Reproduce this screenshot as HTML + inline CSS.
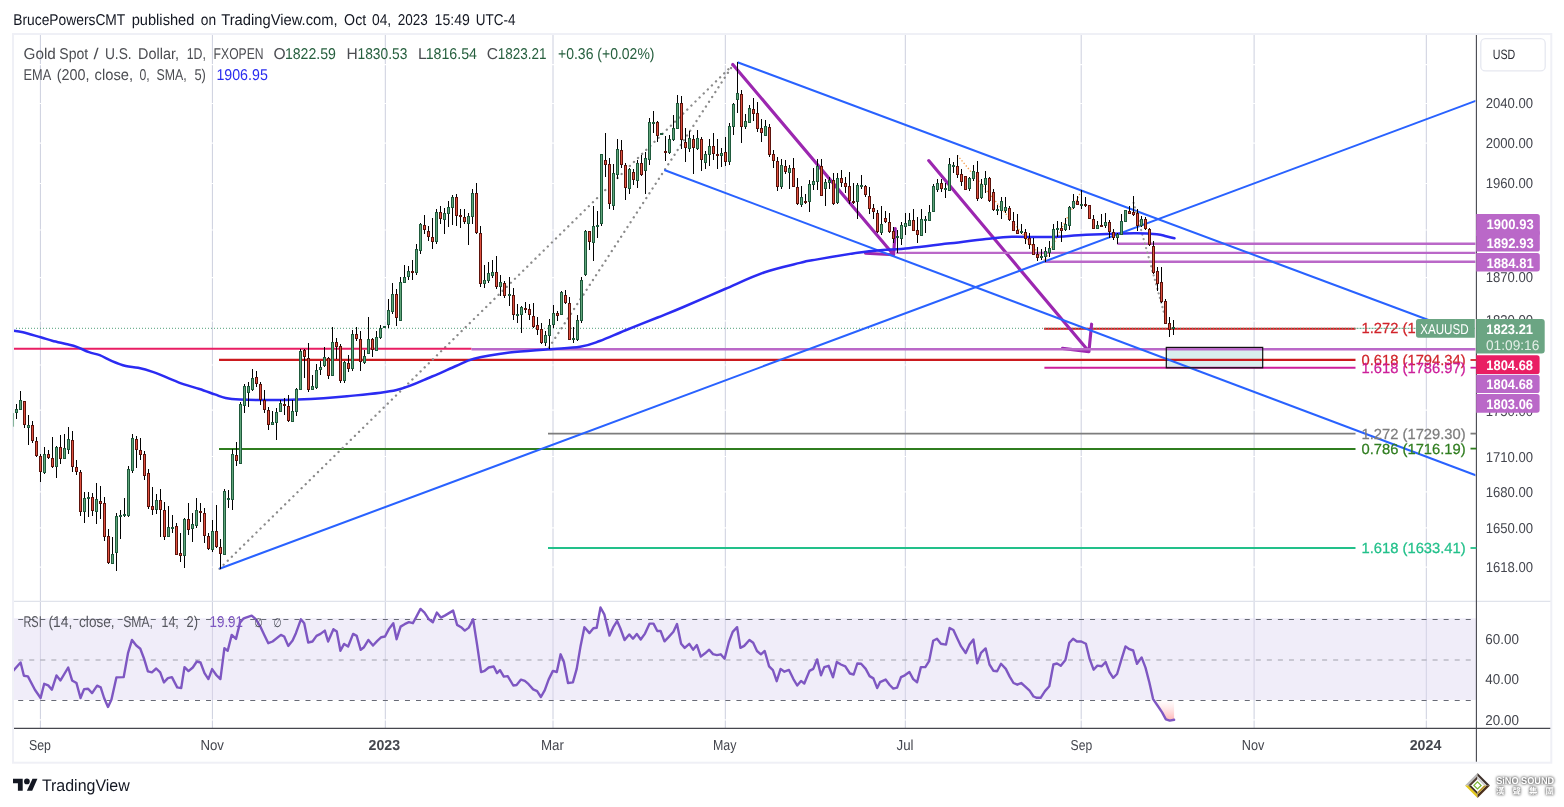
<!DOCTYPE html>
<html><head><meta charset="utf-8"><title>XAUUSD chart</title>
<style>
html,body{margin:0;padding:0;background:#fff;}
body{width:1564px;height:807px;overflow:hidden;font-family:"Liberation Sans", sans-serif;}
svg{display:block;font-family:"Liberation Sans", sans-serif;will-change:transform;opacity:0.999;}
svg text{white-space:pre;text-rendering:geometricPrecision;}
</style></head><body>
<svg width="1564" height="807" viewBox="0 0 1564 807">
<defs><clipPath id="cp"><rect x="13.0" y="34.0" width="1463.4" height="694.4"/></clipPath><clipPath id="cpm"><rect x="12.0" y="34.0" width="1463.4" height="567.3"/></clipPath><linearGradient id="rg" x1="0" y1="0" x2="0" y2="1"><stop offset="0" stop-color="#ffd2d2" stop-opacity="0"/><stop offset="1" stop-color="#ff9a9a" stop-opacity="0.75"/></linearGradient><clipPath id="cpr"><rect x="13.0" y="601.3" width="1463.4" height="127.1"/></clipPath></defs>
<line x1="40.4" y1="34.0" x2="40.4" y2="728.4" stroke="#cccfde" stroke-width="1" />
<line x1="212.4" y1="34.0" x2="212.4" y2="728.4" stroke="#cccfde" stroke-width="1" />
<line x1="385.3" y1="34.0" x2="385.3" y2="728.4" stroke="#cccfde" stroke-width="1" />
<line x1="553.0" y1="34.0" x2="553.0" y2="728.4" stroke="#cccfde" stroke-width="1" />
<line x1="725.3" y1="34.0" x2="725.3" y2="728.4" stroke="#cccfde" stroke-width="1" />
<line x1="905.3" y1="34.0" x2="905.3" y2="728.4" stroke="#cccfde" stroke-width="1" />
<line x1="1081.2" y1="34.0" x2="1081.2" y2="728.4" stroke="#cccfde" stroke-width="1" />
<line x1="1254.1" y1="34.0" x2="1254.1" y2="728.4" stroke="#cccfde" stroke-width="1" />
<line x1="1426.3" y1="34.0" x2="1426.3" y2="728.4" stroke="#cccfde" stroke-width="1" />
<line x1="13.0" y1="64.7" x2="1476.4" y2="64.7" stroke="#ffffff" stroke-width="1.2" />
<line x1="13.0" y1="103.5" x2="1476.4" y2="103.5" stroke="#ffffff" stroke-width="1.2" />
<line x1="13.0" y1="143.1" x2="1476.4" y2="143.1" stroke="#ffffff" stroke-width="1.2" />
<line x1="13.0" y1="183.5" x2="1476.4" y2="183.5" stroke="#ffffff" stroke-width="1.2" />
<line x1="13.0" y1="230.0" x2="1476.4" y2="230.0" stroke="#ffffff" stroke-width="1.2" />
<line x1="13.0" y1="277.6" x2="1476.4" y2="277.6" stroke="#ffffff" stroke-width="1.2" />
<line x1="13.0" y1="320.8" x2="1476.4" y2="320.8" stroke="#ffffff" stroke-width="1.2" />
<line x1="13.0" y1="365.0" x2="1476.4" y2="365.0" stroke="#ffffff" stroke-width="1.2" />
<line x1="13.0" y1="410.2" x2="1476.4" y2="410.2" stroke="#ffffff" stroke-width="1.2" />
<line x1="13.0" y1="456.5" x2="1476.4" y2="456.5" stroke="#ffffff" stroke-width="1.2" />
<line x1="13.0" y1="491.9" x2="1476.4" y2="491.9" stroke="#ffffff" stroke-width="1.2" />
<line x1="13.0" y1="527.9" x2="1476.4" y2="527.9" stroke="#ffffff" stroke-width="1.2" />
<line x1="13.0" y1="567.1" x2="1476.4" y2="567.1" stroke="#ffffff" stroke-width="1.2" />
<line x1="13.0" y1="639.4" x2="1476.4" y2="639.4" stroke="#ffffff" stroke-width="1.2" />
<line x1="13.0" y1="679.6" x2="1476.4" y2="679.6" stroke="#ffffff" stroke-width="1.2" />
<line x1="13.0" y1="719.8" x2="1476.4" y2="719.8" stroke="#ffffff" stroke-width="1.2" />
<rect x="13.0" y="618.3" width="1463.4" height="81.6" fill="#f0edf9"/>
<line x1="40.4" y1="618.3" x2="40.4" y2="699.9" stroke="#d3d1e4" stroke-width="1" />
<line x1="212.4" y1="618.3" x2="212.4" y2="699.9" stroke="#d3d1e4" stroke-width="1" />
<line x1="385.3" y1="618.3" x2="385.3" y2="699.9" stroke="#d3d1e4" stroke-width="1" />
<line x1="553.0" y1="618.3" x2="553.0" y2="699.9" stroke="#d3d1e4" stroke-width="1" />
<line x1="725.3" y1="618.3" x2="725.3" y2="699.9" stroke="#d3d1e4" stroke-width="1" />
<line x1="905.3" y1="618.3" x2="905.3" y2="699.9" stroke="#d3d1e4" stroke-width="1" />
<line x1="1081.2" y1="618.3" x2="1081.2" y2="699.9" stroke="#d3d1e4" stroke-width="1" />
<line x1="1254.1" y1="618.3" x2="1254.1" y2="699.9" stroke="#d3d1e4" stroke-width="1" />
<line x1="1426.3" y1="618.3" x2="1426.3" y2="699.9" stroke="#d3d1e4" stroke-width="1" />
<line x1="13.0" y1="619.5" x2="1476.4" y2="619.5" stroke="#676a75" stroke-width="1.1" stroke-dasharray="5 6.05" stroke-dashoffset="-5.2"/>
<line x1="13.0" y1="660.0" x2="1476.4" y2="660.0" stroke="#a0a2ab" stroke-width="1.1" stroke-dasharray="5 6.05" stroke-dashoffset="-5.2"/>
<line x1="13.0" y1="700.5" x2="1476.4" y2="700.5" stroke="#676a75" stroke-width="1.1" stroke-dasharray="5 6.05" stroke-dashoffset="-5.2"/>
<g clip-path="url(#cpm)">
<rect x="1166.3" y="347.4" width="96.4" height="20.4" fill="#d9eeee"/>
<line x1="219.0" y1="359.8" x2="1355.5" y2="359.8" stroke="#cb1a1e" stroke-width="2.2" />
<line x1="219.0" y1="449.0" x2="1355.5" y2="449.0" stroke="#2f7d1f" stroke-width="2" />
<line x1="548.0" y1="433.6" x2="1355.5" y2="433.6" stroke="#7d7d7d" stroke-width="1.7" />
<line x1="548.0" y1="548.0" x2="1355.5" y2="548.0" stroke="#22c08a" stroke-width="1.9" />
<line x1="1044.1" y1="328.7" x2="1355.5" y2="328.7" stroke="#cb1a1e" stroke-width="2" />
<line x1="1044.4" y1="367.7" x2="1355.5" y2="367.7" stroke="#cc1f9a" stroke-width="1.9" />
<line x1="13.0" y1="328.3" x2="1476.4" y2="328.3" stroke="#4f9f78" stroke-width="1" stroke-dasharray="1 2"/>
<line x1="219.5" y1="568.8" x2="733.5" y2="64.2" stroke="#8a8a8a" stroke-width="2.3" stroke-dasharray="0.1 5.65" stroke-linecap="round"/>
<line x1="549.0" y1="347.5" x2="733.5" y2="64.2" stroke="#8a8a8a" stroke-width="2.3" stroke-dasharray="0.1 5.65" stroke-linecap="round"/>
<path d="M732.8,64.5L893.6,254.8M865.5,253.3L893.6,254.8L895.3,228.5" fill="none" stroke="#9c27b0" stroke-width="3.15" stroke-linecap="round" stroke-linejoin="round"/>
<path d="M928.7,160.6L1088.9,351.6M1062.5,348.4L1088.9,351.6L1091.6,324.2" fill="none" stroke="#9c27b0" stroke-width="3.15" stroke-linecap="round" stroke-linejoin="round"/>
<line x1="13.0" y1="348.8" x2="471.5" y2="348.8" stroke="#e91e63" stroke-width="2" />
<line x1="471.5" y1="349.3" x2="1476.4" y2="349.3" stroke="#ba68c8" stroke-width="2.6" />
<line x1="1117.3" y1="243.8" x2="1476.4" y2="243.8" stroke="#ba68c8" stroke-width="2.4" />
<line x1="896.4" y1="252.9" x2="1476.4" y2="252.9" stroke="#ba68c8" stroke-width="2.4" />
<line x1="1044.4" y1="261.8" x2="1476.4" y2="261.8" stroke="#ba68c8" stroke-width="2.4" />
<line x1="957.4" y1="155.3" x2="1045.4" y2="261.5" stroke="#f59a45" stroke-width="1.3" stroke-dasharray="1.3 2"/>
<line x1="1045.4" y1="259.3" x2="1081.4" y2="190.9" stroke="#f59a45" stroke-width="1.3" stroke-dasharray="1.3 2"/>
<line x1="219.5" y1="568.8" x2="1476.4" y2="100.6" stroke="#2962ff" stroke-width="2.05" />
<line x1="737.5" y1="62.3" x2="1466.0" y2="334.0" stroke="#2962ff" stroke-width="2.05" />
<line x1="664.3" y1="170.0" x2="1476.4" y2="475.6" stroke="#2962ff" stroke-width="2.05" />
<rect x="1166.3" y="347.4" width="96.4" height="20.4" fill="none" stroke="#111" stroke-width="1.2"/>
<line x1="1133.6" y1="202.8" x2="1167.3" y2="324.7" stroke="#999999" stroke-width="2.2" stroke-dasharray="0.1 4.6" stroke-linecap="round"/>
<path d="M12.0,330.4C13.8,330.7 18.2,331.0 23.0,332.2C27.8,333.4 35.8,335.9 40.7,337.3C45.6,338.7 48.0,339.6 52.2,340.7C56.4,341.8 61.9,343.0 66.0,344.0C70.1,345.0 72.9,345.4 76.7,346.8C80.5,348.2 85.2,350.8 89.0,352.2C92.8,353.6 95.9,353.7 99.7,355.2C103.5,356.7 107.7,359.3 112.0,361.1C116.3,362.9 121.5,364.9 125.8,366.0C130.2,367.1 133.5,366.8 138.1,367.8C142.7,368.8 148.3,370.4 153.4,372.1C158.5,373.9 163.7,376.2 168.8,378.3C173.9,380.4 179.0,382.6 184.1,384.4C189.2,386.2 194.4,387.3 199.5,389.0C204.6,390.7 210.5,392.9 214.8,394.4C219.2,395.9 221.4,397.1 225.6,398.0C229.8,398.9 233.9,399.3 240.0,399.6C246.1,399.9 252.4,400.0 262.0,400.0C271.6,400.0 283.3,400.1 297.5,399.5C311.7,398.9 330.5,397.8 347.0,396.2C363.5,394.6 382.4,393.3 396.6,390.0C410.8,386.7 422.1,380.5 432.0,376.5C441.9,372.5 449.0,368.9 456.0,366.0C463.0,363.1 465.1,361.0 474.0,358.8C482.9,356.6 497.2,354.2 509.5,352.6C521.8,351.0 536.2,350.3 548.0,349.3C559.8,348.3 571.4,348.2 580.0,346.8C588.6,345.4 592.2,343.7 599.7,341.0C607.2,338.3 615.4,334.4 625.0,330.5C634.6,326.6 647.9,321.4 657.6,317.5C667.3,313.6 672.2,311.8 683.4,307.0C694.6,302.2 711.6,294.8 725.0,289.0C738.4,283.2 751.5,276.9 764.0,272.5C776.5,268.1 792.0,264.9 800.0,262.9C808.0,260.9 801.4,262.1 812.0,260.3C822.6,258.5 847.6,254.0 863.7,252.0C879.8,250.0 894.8,249.6 908.8,248.2C922.8,246.8 934.6,245.1 947.5,243.6C960.4,242.1 975.3,240.1 986.0,239.0C996.7,237.9 1001.1,237.1 1011.9,236.8C1022.6,236.5 1038.2,237.3 1050.5,237.0C1062.8,236.7 1072.1,235.4 1086.0,234.8C1099.9,234.2 1122.2,233.4 1134.0,233.3C1145.8,233.2 1151.5,233.7 1156.8,234.2C1162.1,234.7 1163.0,235.5 1166.0,236.2C1169.0,236.9 1173.1,238.0 1174.5,238.3" fill="none" stroke="#2b2bf2" stroke-width="2.5" stroke-linecap="round"/>
<line x1="12.5" y1="413" x2="12.5" y2="427" stroke="#000" stroke-width="1"/>
<rect x="11.0" y="413" width="3" height="14" fill="#1f5a3c"/>
<rect x="12.0" y="414" width="1" height="12" fill="#5fa57a"/>
<line x1="16.5" y1="404" x2="16.5" y2="419" stroke="#000" stroke-width="1"/>
<rect x="15.0" y="409" width="3" height="4" fill="#1f5a3c"/>
<rect x="16.0" y="410" width="1" height="2" fill="#5fa57a"/>
<line x1="20.5" y1="391" x2="20.5" y2="409" stroke="#000" stroke-width="1"/>
<rect x="19.0" y="400" width="3" height="10" fill="#1f5a3c"/>
<rect x="20.0" y="401" width="1" height="8" fill="#5fa57a"/>
<line x1="24.5" y1="401" x2="24.5" y2="428" stroke="#000" stroke-width="1"/>
<rect x="23.0" y="401" width="3" height="24" fill="#5c130c"/>
<rect x="24.0" y="402" width="1" height="22" fill="#e0503f"/>
<line x1="28.5" y1="415" x2="28.5" y2="445" stroke="#000" stroke-width="1"/>
<rect x="27.0" y="425" width="3" height="3" fill="#1f5a3c"/>
<rect x="28.0" y="426" width="1" height="1" fill="#5fa57a"/>
<line x1="32.5" y1="421" x2="32.5" y2="443" stroke="#000" stroke-width="1"/>
<rect x="31.0" y="425" width="3" height="16" fill="#5c130c"/>
<rect x="32.0" y="426" width="1" height="14" fill="#e0503f"/>
<line x1="36.5" y1="437" x2="36.5" y2="457" stroke="#000" stroke-width="1"/>
<rect x="35.0" y="441" width="3" height="15" fill="#5c130c"/>
<rect x="36.0" y="442" width="1" height="13" fill="#e0503f"/>
<line x1="40.5" y1="454" x2="40.5" y2="482" stroke="#000" stroke-width="1"/>
<rect x="39.0" y="456" width="3" height="16" fill="#5c130c"/>
<rect x="40.0" y="457" width="1" height="14" fill="#e0503f"/>
<line x1="44.5" y1="447" x2="44.5" y2="474" stroke="#000" stroke-width="1"/>
<rect x="43.0" y="454" width="3" height="19" fill="#1f5a3c"/>
<rect x="44.0" y="455" width="1" height="17" fill="#5fa57a"/>
<line x1="48.5" y1="450" x2="48.5" y2="459" stroke="#000" stroke-width="1"/>
<rect x="47.0" y="454" width="3" height="4" fill="#5c130c"/>
<rect x="48.0" y="455" width="1" height="2" fill="#e0503f"/>
<line x1="52.5" y1="437" x2="52.5" y2="468" stroke="#000" stroke-width="1"/>
<rect x="51.0" y="458" width="3" height="9" fill="#5c130c"/>
<rect x="52.0" y="459" width="1" height="7" fill="#e0503f"/>
<line x1="56.5" y1="446" x2="56.5" y2="478" stroke="#000" stroke-width="1"/>
<rect x="55.0" y="447" width="3" height="20" fill="#1f5a3c"/>
<rect x="56.0" y="448" width="1" height="18" fill="#5fa57a"/>
<line x1="60.5" y1="435" x2="60.5" y2="464" stroke="#000" stroke-width="1"/>
<rect x="59.0" y="447" width="3" height="12" fill="#5c130c"/>
<rect x="60.0" y="448" width="1" height="10" fill="#e0503f"/>
<line x1="64.5" y1="434" x2="64.5" y2="459" stroke="#000" stroke-width="1"/>
<rect x="63.0" y="448" width="3" height="11" fill="#1f5a3c"/>
<rect x="64.0" y="449" width="1" height="9" fill="#5fa57a"/>
<line x1="68.5" y1="427" x2="68.5" y2="454" stroke="#000" stroke-width="1"/>
<rect x="67.0" y="439" width="3" height="11" fill="#1f5a3c"/>
<rect x="68.0" y="440" width="1" height="9" fill="#5fa57a"/>
<line x1="72.5" y1="431" x2="72.5" y2="472" stroke="#000" stroke-width="1"/>
<rect x="71.0" y="440" width="3" height="27" fill="#5c130c"/>
<rect x="72.0" y="441" width="1" height="25" fill="#e0503f"/>
<line x1="76.5" y1="460" x2="76.5" y2="475" stroke="#000" stroke-width="1"/>
<rect x="75.0" y="467" width="3" height="5" fill="#5c130c"/>
<rect x="76.0" y="468" width="1" height="3" fill="#e0503f"/>
<line x1="80.5" y1="470" x2="80.5" y2="516" stroke="#000" stroke-width="1"/>
<rect x="79.0" y="472" width="3" height="40" fill="#5c130c"/>
<rect x="80.0" y="473" width="1" height="38" fill="#e0503f"/>
<line x1="84.5" y1="492" x2="84.5" y2="523" stroke="#000" stroke-width="1"/>
<rect x="83.0" y="498" width="3" height="14" fill="#1f5a3c"/>
<rect x="84.0" y="499" width="1" height="12" fill="#5fa57a"/>
<line x1="88.5" y1="492" x2="88.5" y2="517" stroke="#000" stroke-width="1"/>
<rect x="87.0" y="497" width="3" height="2" fill="#1f5a3c"/>
<line x1="92.5" y1="493" x2="92.5" y2="516" stroke="#000" stroke-width="1"/>
<rect x="91.0" y="497" width="3" height="14" fill="#5c130c"/>
<rect x="92.0" y="498" width="1" height="12" fill="#e0503f"/>
<line x1="96.5" y1="483" x2="96.5" y2="524" stroke="#000" stroke-width="1"/>
<rect x="95.0" y="499" width="3" height="13" fill="#1f5a3c"/>
<rect x="96.0" y="500" width="1" height="11" fill="#5fa57a"/>
<line x1="100.5" y1="486" x2="100.5" y2="519" stroke="#000" stroke-width="1"/>
<rect x="99.0" y="501" width="3" height="3" fill="#5c130c"/>
<rect x="100.0" y="502" width="1" height="1" fill="#e0503f"/>
<line x1="104.5" y1="497" x2="104.5" y2="541" stroke="#000" stroke-width="1"/>
<rect x="103.0" y="503" width="3" height="34" fill="#5c130c"/>
<rect x="104.0" y="504" width="1" height="32" fill="#e0503f"/>
<line x1="108.5" y1="529" x2="108.5" y2="564" stroke="#000" stroke-width="1"/>
<rect x="107.0" y="536" width="3" height="27" fill="#5c130c"/>
<rect x="108.0" y="537" width="1" height="25" fill="#e0503f"/>
<line x1="112.5" y1="537" x2="112.5" y2="564" stroke="#000" stroke-width="1"/>
<rect x="111.0" y="554" width="3" height="10" fill="#1f5a3c"/>
<rect x="112.0" y="555" width="1" height="8" fill="#5fa57a"/>
<line x1="116.5" y1="513" x2="116.5" y2="571" stroke="#000" stroke-width="1"/>
<rect x="115.0" y="516" width="3" height="37" fill="#1f5a3c"/>
<rect x="116.0" y="517" width="1" height="35" fill="#5fa57a"/>
<line x1="120.5" y1="510" x2="120.5" y2="539" stroke="#000" stroke-width="1"/>
<rect x="119.0" y="515" width="3" height="2" fill="#1f5a3c"/>
<line x1="124.5" y1="498" x2="124.5" y2="517" stroke="#000" stroke-width="1"/>
<rect x="123.0" y="514" width="3" height="2" fill="#1f5a3c"/>
<line x1="128.5" y1="466" x2="128.5" y2="517" stroke="#000" stroke-width="1"/>
<rect x="127.0" y="469" width="3" height="47" fill="#1f5a3c"/>
<rect x="128.0" y="470" width="1" height="45" fill="#5fa57a"/>
<line x1="132.5" y1="434" x2="132.5" y2="473" stroke="#000" stroke-width="1"/>
<rect x="131.0" y="438" width="3" height="33" fill="#1f5a3c"/>
<rect x="132.0" y="439" width="1" height="31" fill="#5fa57a"/>
<line x1="136.5" y1="436" x2="136.5" y2="468" stroke="#000" stroke-width="1"/>
<rect x="135.0" y="439" width="3" height="11" fill="#5c130c"/>
<rect x="136.0" y="440" width="1" height="9" fill="#e0503f"/>
<line x1="140.5" y1="438" x2="140.5" y2="460" stroke="#000" stroke-width="1"/>
<rect x="139.0" y="450" width="3" height="5" fill="#5c130c"/>
<rect x="140.0" y="451" width="1" height="3" fill="#e0503f"/>
<line x1="144.5" y1="451" x2="144.5" y2="480" stroke="#000" stroke-width="1"/>
<rect x="143.0" y="454" width="3" height="22" fill="#5c130c"/>
<rect x="144.0" y="455" width="1" height="20" fill="#e0503f"/>
<line x1="148.5" y1="469" x2="148.5" y2="509" stroke="#000" stroke-width="1"/>
<rect x="147.0" y="473" width="3" height="34" fill="#5c130c"/>
<rect x="148.0" y="474" width="1" height="32" fill="#e0503f"/>
<line x1="152.5" y1="487" x2="152.5" y2="515" stroke="#000" stroke-width="1"/>
<rect x="151.0" y="506" width="3" height="4" fill="#5c130c"/>
<rect x="152.0" y="507" width="1" height="2" fill="#e0503f"/>
<line x1="156.5" y1="494" x2="156.5" y2="514" stroke="#000" stroke-width="1"/>
<rect x="155.0" y="500" width="3" height="10" fill="#1f5a3c"/>
<rect x="156.0" y="501" width="1" height="8" fill="#5fa57a"/>
<line x1="160.5" y1="489" x2="160.5" y2="537" stroke="#000" stroke-width="1"/>
<rect x="159.0" y="500" width="3" height="10" fill="#5c130c"/>
<rect x="160.0" y="501" width="1" height="8" fill="#e0503f"/>
<line x1="164.5" y1="502" x2="164.5" y2="540" stroke="#000" stroke-width="1"/>
<rect x="163.0" y="510" width="3" height="27" fill="#5c130c"/>
<rect x="164.0" y="511" width="1" height="25" fill="#e0503f"/>
<line x1="168.5" y1="506" x2="168.5" y2="537" stroke="#000" stroke-width="1"/>
<rect x="167.0" y="527" width="3" height="10" fill="#1f5a3c"/>
<rect x="168.0" y="528" width="1" height="8" fill="#5fa57a"/>
<line x1="172.5" y1="515" x2="172.5" y2="533" stroke="#000" stroke-width="1"/>
<rect x="171.0" y="527" width="3" height="2" fill="#1f5a3c"/>
<line x1="176.5" y1="523" x2="176.5" y2="555" stroke="#000" stroke-width="1"/>
<rect x="175.0" y="526" width="3" height="29" fill="#5c130c"/>
<rect x="176.0" y="527" width="1" height="27" fill="#e0503f"/>
<line x1="180.5" y1="533" x2="180.5" y2="562" stroke="#000" stroke-width="1"/>
<rect x="179.0" y="553" width="3" height="3" fill="#5c130c"/>
<rect x="180.0" y="554" width="1" height="1" fill="#e0503f"/>
<line x1="184.5" y1="518" x2="184.5" y2="568" stroke="#000" stroke-width="1"/>
<rect x="183.0" y="519" width="3" height="37" fill="#1f5a3c"/>
<rect x="184.0" y="520" width="1" height="35" fill="#5fa57a"/>
<line x1="188.5" y1="503" x2="188.5" y2="535" stroke="#000" stroke-width="1"/>
<rect x="187.0" y="519" width="3" height="11" fill="#5c130c"/>
<rect x="188.0" y="520" width="1" height="9" fill="#e0503f"/>
<line x1="192.5" y1="513" x2="192.5" y2="542" stroke="#000" stroke-width="1"/>
<rect x="191.0" y="524" width="3" height="5" fill="#1f5a3c"/>
<rect x="192.0" y="525" width="1" height="3" fill="#5fa57a"/>
<line x1="196.5" y1="498" x2="196.5" y2="528" stroke="#000" stroke-width="1"/>
<rect x="195.0" y="510" width="3" height="16" fill="#1f5a3c"/>
<rect x="196.0" y="511" width="1" height="14" fill="#5fa57a"/>
<line x1="200.5" y1="503" x2="200.5" y2="522" stroke="#000" stroke-width="1"/>
<rect x="199.0" y="511" width="3" height="2" fill="#5c130c"/>
<line x1="204.5" y1="508" x2="204.5" y2="543" stroke="#000" stroke-width="1"/>
<rect x="203.0" y="513" width="3" height="23" fill="#5c130c"/>
<rect x="204.0" y="514" width="1" height="21" fill="#e0503f"/>
<line x1="208.5" y1="533" x2="208.5" y2="550" stroke="#000" stroke-width="1"/>
<rect x="207.0" y="536" width="3" height="13" fill="#5c130c"/>
<rect x="208.0" y="537" width="1" height="11" fill="#e0503f"/>
<line x1="212.5" y1="520" x2="212.5" y2="552" stroke="#000" stroke-width="1"/>
<rect x="211.0" y="531" width="3" height="19" fill="#1f5a3c"/>
<rect x="212.0" y="532" width="1" height="17" fill="#5fa57a"/>
<line x1="216.5" y1="505" x2="216.5" y2="548" stroke="#000" stroke-width="1"/>
<rect x="215.0" y="531" width="3" height="16" fill="#5c130c"/>
<rect x="216.0" y="532" width="1" height="14" fill="#e0503f"/>
<line x1="220.5" y1="539" x2="220.5" y2="569" stroke="#000" stroke-width="1"/>
<rect x="219.0" y="547" width="3" height="7" fill="#5c130c"/>
<rect x="220.0" y="548" width="1" height="5" fill="#e0503f"/>
<line x1="224.5" y1="489" x2="224.5" y2="555" stroke="#000" stroke-width="1"/>
<rect x="223.0" y="491" width="3" height="64" fill="#1f5a3c"/>
<rect x="224.0" y="492" width="1" height="62" fill="#5fa57a"/>
<line x1="228.5" y1="490" x2="228.5" y2="508" stroke="#000" stroke-width="1"/>
<rect x="227.0" y="498" width="3" height="2" fill="#1f5a3c"/>
<line x1="232.5" y1="449" x2="232.5" y2="510" stroke="#000" stroke-width="1"/>
<rect x="231.0" y="454" width="3" height="46" fill="#1f5a3c"/>
<rect x="232.0" y="455" width="1" height="44" fill="#5fa57a"/>
<line x1="236.5" y1="442" x2="236.5" y2="466" stroke="#000" stroke-width="1"/>
<rect x="235.0" y="455" width="3" height="6" fill="#5c130c"/>
<rect x="236.0" y="456" width="1" height="4" fill="#e0503f"/>
<line x1="240.5" y1="402" x2="240.5" y2="464" stroke="#000" stroke-width="1"/>
<rect x="239.0" y="404" width="3" height="60" fill="#1f5a3c"/>
<rect x="240.0" y="405" width="1" height="58" fill="#5fa57a"/>
<line x1="244.5" y1="384" x2="244.5" y2="413" stroke="#000" stroke-width="1"/>
<rect x="243.0" y="386" width="3" height="20" fill="#1f5a3c"/>
<rect x="244.0" y="387" width="1" height="18" fill="#5fa57a"/>
<line x1="248.5" y1="382" x2="248.5" y2="407" stroke="#000" stroke-width="1"/>
<rect x="247.0" y="386" width="3" height="7" fill="#1f5a3c"/>
<rect x="248.0" y="387" width="1" height="5" fill="#5fa57a"/>
<line x1="252.5" y1="369" x2="252.5" y2="391" stroke="#000" stroke-width="1"/>
<rect x="251.0" y="378" width="3" height="12" fill="#1f5a3c"/>
<rect x="252.0" y="379" width="1" height="10" fill="#5fa57a"/>
<line x1="256.5" y1="371" x2="256.5" y2="387" stroke="#000" stroke-width="1"/>
<rect x="255.0" y="377" width="3" height="7" fill="#5c130c"/>
<rect x="256.0" y="378" width="1" height="5" fill="#e0503f"/>
<line x1="260.5" y1="382" x2="260.5" y2="405" stroke="#000" stroke-width="1"/>
<rect x="259.0" y="384" width="3" height="16" fill="#5c130c"/>
<rect x="260.0" y="385" width="1" height="14" fill="#e0503f"/>
<line x1="264.5" y1="390" x2="264.5" y2="413" stroke="#000" stroke-width="1"/>
<rect x="263.0" y="400" width="3" height="10" fill="#5c130c"/>
<rect x="264.0" y="401" width="1" height="8" fill="#e0503f"/>
<line x1="268.5" y1="407" x2="268.5" y2="430" stroke="#000" stroke-width="1"/>
<rect x="267.0" y="410" width="3" height="15" fill="#5c130c"/>
<rect x="268.0" y="411" width="1" height="13" fill="#e0503f"/>
<line x1="272.5" y1="411" x2="272.5" y2="425" stroke="#000" stroke-width="1"/>
<rect x="271.0" y="422" width="3" height="3" fill="#1f5a3c"/>
<rect x="272.0" y="423" width="1" height="1" fill="#5fa57a"/>
<line x1="276.5" y1="408" x2="276.5" y2="440" stroke="#000" stroke-width="1"/>
<rect x="275.0" y="412" width="3" height="11" fill="#1f5a3c"/>
<rect x="276.0" y="413" width="1" height="9" fill="#5fa57a"/>
<line x1="280.5" y1="400" x2="280.5" y2="412" stroke="#000" stroke-width="1"/>
<rect x="279.0" y="403" width="3" height="9" fill="#1f5a3c"/>
<rect x="280.0" y="404" width="1" height="7" fill="#5fa57a"/>
<line x1="284.5" y1="398" x2="284.5" y2="415" stroke="#000" stroke-width="1"/>
<rect x="283.0" y="404" width="3" height="2" fill="#5c130c"/>
<line x1="288.5" y1="395" x2="288.5" y2="422" stroke="#000" stroke-width="1"/>
<rect x="287.0" y="406" width="3" height="15" fill="#5c130c"/>
<rect x="288.0" y="407" width="1" height="13" fill="#e0503f"/>
<line x1="292.5" y1="400" x2="292.5" y2="422" stroke="#000" stroke-width="1"/>
<rect x="291.0" y="411" width="3" height="11" fill="#1f5a3c"/>
<rect x="292.0" y="412" width="1" height="9" fill="#5fa57a"/>
<line x1="296.5" y1="388" x2="296.5" y2="416" stroke="#000" stroke-width="1"/>
<rect x="295.0" y="389" width="3" height="23" fill="#1f5a3c"/>
<rect x="296.0" y="390" width="1" height="21" fill="#5fa57a"/>
<line x1="300.5" y1="349" x2="300.5" y2="390" stroke="#000" stroke-width="1"/>
<rect x="299.0" y="351" width="3" height="39" fill="#1f5a3c"/>
<rect x="300.0" y="352" width="1" height="37" fill="#5fa57a"/>
<line x1="304.5" y1="349" x2="304.5" y2="378" stroke="#000" stroke-width="1"/>
<rect x="303.0" y="350" width="3" height="7" fill="#5c130c"/>
<rect x="304.0" y="351" width="1" height="5" fill="#e0503f"/>
<line x1="308.5" y1="343" x2="308.5" y2="392" stroke="#000" stroke-width="1"/>
<rect x="307.0" y="358" width="3" height="32" fill="#5c130c"/>
<rect x="308.0" y="359" width="1" height="30" fill="#e0503f"/>
<line x1="312.5" y1="375" x2="312.5" y2="390" stroke="#000" stroke-width="1"/>
<rect x="311.0" y="386" width="3" height="4" fill="#1f5a3c"/>
<rect x="312.0" y="387" width="1" height="2" fill="#5fa57a"/>
<line x1="316.5" y1="364" x2="316.5" y2="389" stroke="#000" stroke-width="1"/>
<rect x="315.0" y="370" width="3" height="18" fill="#1f5a3c"/>
<rect x="316.0" y="371" width="1" height="16" fill="#5fa57a"/>
<line x1="320.5" y1="361" x2="320.5" y2="375" stroke="#000" stroke-width="1"/>
<rect x="319.0" y="367" width="3" height="3" fill="#1f5a3c"/>
<rect x="320.0" y="368" width="1" height="1" fill="#5fa57a"/>
<line x1="324.5" y1="347" x2="324.5" y2="367" stroke="#000" stroke-width="1"/>
<rect x="323.0" y="357" width="3" height="9" fill="#1f5a3c"/>
<rect x="324.0" y="358" width="1" height="7" fill="#5fa57a"/>
<line x1="328.5" y1="357" x2="328.5" y2="379" stroke="#000" stroke-width="1"/>
<rect x="327.0" y="358" width="3" height="18" fill="#5c130c"/>
<rect x="328.0" y="359" width="1" height="16" fill="#e0503f"/>
<line x1="332.5" y1="327" x2="332.5" y2="376" stroke="#000" stroke-width="1"/>
<rect x="331.0" y="342" width="3" height="34" fill="#1f5a3c"/>
<rect x="332.0" y="343" width="1" height="32" fill="#5fa57a"/>
<line x1="336.5" y1="338" x2="336.5" y2="359" stroke="#000" stroke-width="1"/>
<rect x="335.0" y="342" width="3" height="5" fill="#5c130c"/>
<rect x="336.0" y="343" width="1" height="3" fill="#e0503f"/>
<line x1="340.5" y1="344" x2="340.5" y2="383" stroke="#000" stroke-width="1"/>
<rect x="339.0" y="346" width="3" height="35" fill="#5c130c"/>
<rect x="340.0" y="347" width="1" height="33" fill="#e0503f"/>
<line x1="344.5" y1="361" x2="344.5" y2="383" stroke="#000" stroke-width="1"/>
<rect x="343.0" y="362" width="3" height="19" fill="#1f5a3c"/>
<rect x="344.0" y="363" width="1" height="17" fill="#5fa57a"/>
<line x1="348.5" y1="355" x2="348.5" y2="372" stroke="#000" stroke-width="1"/>
<rect x="347.0" y="363" width="3" height="6" fill="#5c130c"/>
<rect x="348.0" y="364" width="1" height="4" fill="#e0503f"/>
<line x1="352.5" y1="330" x2="352.5" y2="371" stroke="#000" stroke-width="1"/>
<rect x="351.0" y="334" width="3" height="35" fill="#1f5a3c"/>
<rect x="352.0" y="335" width="1" height="33" fill="#5fa57a"/>
<line x1="356.5" y1="327" x2="356.5" y2="341" stroke="#000" stroke-width="1"/>
<rect x="355.0" y="334" width="3" height="5" fill="#5c130c"/>
<rect x="356.0" y="335" width="1" height="3" fill="#e0503f"/>
<line x1="360.5" y1="331" x2="360.5" y2="371" stroke="#000" stroke-width="1"/>
<rect x="359.0" y="339" width="3" height="23" fill="#5c130c"/>
<rect x="360.0" y="340" width="1" height="21" fill="#e0503f"/>
<line x1="364.5" y1="350" x2="364.5" y2="364" stroke="#000" stroke-width="1"/>
<rect x="363.0" y="356" width="3" height="7" fill="#1f5a3c"/>
<rect x="364.0" y="357" width="1" height="5" fill="#5fa57a"/>
<line x1="368.5" y1="317" x2="368.5" y2="354" stroke="#000" stroke-width="1"/>
<rect x="367.0" y="339" width="3" height="15" fill="#1f5a3c"/>
<rect x="368.0" y="340" width="1" height="13" fill="#5fa57a"/>
<line x1="372.5" y1="338" x2="372.5" y2="357" stroke="#000" stroke-width="1"/>
<rect x="371.0" y="339" width="3" height="11" fill="#5c130c"/>
<rect x="372.0" y="340" width="1" height="9" fill="#e0503f"/>
<line x1="376.5" y1="331" x2="376.5" y2="351" stroke="#000" stroke-width="1"/>
<rect x="375.0" y="337" width="3" height="14" fill="#1f5a3c"/>
<rect x="376.0" y="338" width="1" height="12" fill="#5fa57a"/>
<line x1="380.5" y1="325" x2="380.5" y2="339" stroke="#000" stroke-width="1"/>
<rect x="379.0" y="328" width="3" height="10" fill="#1f5a3c"/>
<rect x="380.0" y="329" width="1" height="8" fill="#5fa57a"/>
<line x1="384.5" y1="327" x2="384.5" y2="328" stroke="#000" stroke-width="1"/>
<rect x="383.0" y="326" width="3" height="2" fill="#1f5a3c"/>
<line x1="388.5" y1="299" x2="388.5" y2="328" stroke="#000" stroke-width="1"/>
<rect x="387.0" y="310" width="3" height="15" fill="#1f5a3c"/>
<rect x="388.0" y="311" width="1" height="13" fill="#5fa57a"/>
<line x1="392.5" y1="283" x2="392.5" y2="314" stroke="#000" stroke-width="1"/>
<rect x="391.0" y="294" width="3" height="18" fill="#1f5a3c"/>
<rect x="392.0" y="295" width="1" height="16" fill="#5fa57a"/>
<line x1="396.5" y1="289" x2="396.5" y2="326" stroke="#000" stroke-width="1"/>
<rect x="395.0" y="294" width="3" height="24" fill="#5c130c"/>
<rect x="396.0" y="295" width="1" height="22" fill="#e0503f"/>
<line x1="400.5" y1="277" x2="400.5" y2="321" stroke="#000" stroke-width="1"/>
<rect x="399.0" y="282" width="3" height="39" fill="#1f5a3c"/>
<rect x="400.0" y="283" width="1" height="37" fill="#5fa57a"/>
<line x1="404.5" y1="265" x2="404.5" y2="283" stroke="#000" stroke-width="1"/>
<rect x="403.0" y="277" width="3" height="6" fill="#1f5a3c"/>
<rect x="404.0" y="278" width="1" height="4" fill="#5fa57a"/>
<line x1="408.5" y1="266" x2="408.5" y2="280" stroke="#000" stroke-width="1"/>
<rect x="407.0" y="271" width="3" height="6" fill="#1f5a3c"/>
<rect x="408.0" y="272" width="1" height="4" fill="#5fa57a"/>
<line x1="412.5" y1="260" x2="412.5" y2="280" stroke="#000" stroke-width="1"/>
<rect x="411.0" y="271" width="3" height="2" fill="#5c130c"/>
<line x1="416.5" y1="244" x2="416.5" y2="275" stroke="#000" stroke-width="1"/>
<rect x="415.0" y="249" width="3" height="24" fill="#1f5a3c"/>
<rect x="416.0" y="250" width="1" height="22" fill="#5fa57a"/>
<line x1="420.5" y1="223" x2="420.5" y2="254" stroke="#000" stroke-width="1"/>
<rect x="419.0" y="224" width="3" height="27" fill="#1f5a3c"/>
<rect x="420.0" y="225" width="1" height="25" fill="#5fa57a"/>
<line x1="424.5" y1="215" x2="424.5" y2="234" stroke="#000" stroke-width="1"/>
<rect x="423.0" y="225" width="3" height="5" fill="#5c130c"/>
<rect x="424.0" y="226" width="1" height="3" fill="#e0503f"/>
<line x1="428.5" y1="226" x2="428.5" y2="241" stroke="#000" stroke-width="1"/>
<rect x="427.0" y="231" width="3" height="6" fill="#5c130c"/>
<rect x="428.0" y="232" width="1" height="4" fill="#e0503f"/>
<line x1="432.5" y1="218" x2="432.5" y2="249" stroke="#000" stroke-width="1"/>
<rect x="431.0" y="237" width="3" height="5" fill="#5c130c"/>
<rect x="432.0" y="238" width="1" height="3" fill="#e0503f"/>
<line x1="436.5" y1="209" x2="436.5" y2="244" stroke="#000" stroke-width="1"/>
<rect x="435.0" y="212" width="3" height="30" fill="#1f5a3c"/>
<rect x="436.0" y="213" width="1" height="28" fill="#5fa57a"/>
<line x1="440.5" y1="206" x2="440.5" y2="224" stroke="#000" stroke-width="1"/>
<rect x="439.0" y="212" width="3" height="7" fill="#5c130c"/>
<rect x="440.0" y="213" width="1" height="5" fill="#e0503f"/>
<line x1="444.5" y1="208" x2="444.5" y2="234" stroke="#000" stroke-width="1"/>
<rect x="443.0" y="213" width="3" height="7" fill="#1f5a3c"/>
<rect x="444.0" y="214" width="1" height="5" fill="#5fa57a"/>
<line x1="448.5" y1="201" x2="448.5" y2="227" stroke="#000" stroke-width="1"/>
<rect x="447.0" y="207" width="3" height="7" fill="#1f5a3c"/>
<rect x="448.0" y="208" width="1" height="5" fill="#5fa57a"/>
<line x1="452.5" y1="195" x2="452.5" y2="225" stroke="#000" stroke-width="1"/>
<rect x="451.0" y="197" width="3" height="11" fill="#1f5a3c"/>
<rect x="452.0" y="198" width="1" height="9" fill="#5fa57a"/>
<line x1="456.5" y1="194" x2="456.5" y2="226" stroke="#000" stroke-width="1"/>
<rect x="455.0" y="197" width="3" height="19" fill="#5c130c"/>
<rect x="456.0" y="198" width="1" height="17" fill="#e0503f"/>
<line x1="460.5" y1="209" x2="460.5" y2="228" stroke="#000" stroke-width="1"/>
<rect x="459.0" y="215" width="3" height="2" fill="#5c130c"/>
<line x1="464.5" y1="209" x2="464.5" y2="224" stroke="#000" stroke-width="1"/>
<rect x="463.0" y="217" width="3" height="5" fill="#5c130c"/>
<rect x="464.0" y="218" width="1" height="3" fill="#e0503f"/>
<line x1="468.5" y1="213" x2="468.5" y2="245" stroke="#000" stroke-width="1"/>
<rect x="467.0" y="216" width="3" height="8" fill="#1f5a3c"/>
<rect x="468.0" y="217" width="1" height="6" fill="#5fa57a"/>
<line x1="472.5" y1="189" x2="472.5" y2="224" stroke="#000" stroke-width="1"/>
<rect x="471.0" y="193" width="3" height="24" fill="#1f5a3c"/>
<rect x="472.0" y="194" width="1" height="22" fill="#5fa57a"/>
<line x1="476.5" y1="183" x2="476.5" y2="234" stroke="#000" stroke-width="1"/>
<rect x="475.0" y="193" width="3" height="40" fill="#5c130c"/>
<rect x="476.0" y="194" width="1" height="38" fill="#e0503f"/>
<line x1="480.5" y1="226" x2="480.5" y2="287" stroke="#000" stroke-width="1"/>
<rect x="479.0" y="233" width="3" height="51" fill="#5c130c"/>
<rect x="480.0" y="234" width="1" height="49" fill="#e0503f"/>
<line x1="484.5" y1="265" x2="484.5" y2="288" stroke="#000" stroke-width="1"/>
<rect x="483.0" y="280" width="3" height="4" fill="#1f5a3c"/>
<rect x="484.0" y="281" width="1" height="2" fill="#5fa57a"/>
<line x1="488.5" y1="262" x2="488.5" y2="283" stroke="#000" stroke-width="1"/>
<rect x="487.0" y="273" width="3" height="8" fill="#1f5a3c"/>
<rect x="488.0" y="274" width="1" height="6" fill="#5fa57a"/>
<line x1="492.5" y1="260" x2="492.5" y2="278" stroke="#000" stroke-width="1"/>
<rect x="491.0" y="272" width="3" height="4" fill="#1f5a3c"/>
<rect x="492.0" y="273" width="1" height="2" fill="#5fa57a"/>
<line x1="496.5" y1="256" x2="496.5" y2="289" stroke="#000" stroke-width="1"/>
<rect x="495.0" y="272" width="3" height="15" fill="#5c130c"/>
<rect x="496.0" y="273" width="1" height="13" fill="#e0503f"/>
<line x1="500.5" y1="275" x2="500.5" y2="296" stroke="#000" stroke-width="1"/>
<rect x="499.0" y="282" width="3" height="5" fill="#1f5a3c"/>
<rect x="500.0" y="283" width="1" height="3" fill="#5fa57a"/>
<line x1="504.5" y1="281" x2="504.5" y2="298" stroke="#000" stroke-width="1"/>
<rect x="503.0" y="283" width="3" height="13" fill="#5c130c"/>
<rect x="504.0" y="284" width="1" height="11" fill="#e0503f"/>
<line x1="509.5" y1="277" x2="509.5" y2="306" stroke="#000" stroke-width="1"/>
<rect x="508.0" y="294" width="3" height="2" fill="#1f5a3c"/>
<line x1="513.5" y1="288" x2="513.5" y2="320" stroke="#000" stroke-width="1"/>
<rect x="512.0" y="295" width="3" height="20" fill="#5c130c"/>
<rect x="513.0" y="296" width="1" height="18" fill="#e0503f"/>
<line x1="517.5" y1="304" x2="517.5" y2="323" stroke="#000" stroke-width="1"/>
<rect x="516.0" y="314" width="3" height="2" fill="#1f5a3c"/>
<line x1="521.5" y1="306" x2="521.5" y2="333" stroke="#000" stroke-width="1"/>
<rect x="520.0" y="307" width="3" height="8" fill="#1f5a3c"/>
<rect x="521.0" y="308" width="1" height="6" fill="#5fa57a"/>
<line x1="525.5" y1="302" x2="525.5" y2="313" stroke="#000" stroke-width="1"/>
<rect x="524.0" y="308" width="3" height="2" fill="#5c130c"/>
<line x1="529.5" y1="304" x2="529.5" y2="320" stroke="#000" stroke-width="1"/>
<rect x="528.0" y="309" width="3" height="6" fill="#5c130c"/>
<rect x="529.0" y="310" width="1" height="4" fill="#e0503f"/>
<line x1="533.5" y1="303" x2="533.5" y2="328" stroke="#000" stroke-width="1"/>
<rect x="532.0" y="316" width="3" height="11" fill="#5c130c"/>
<rect x="533.0" y="317" width="1" height="9" fill="#e0503f"/>
<line x1="537.5" y1="317" x2="537.5" y2="335" stroke="#000" stroke-width="1"/>
<rect x="536.0" y="325" width="3" height="5" fill="#5c130c"/>
<rect x="537.0" y="326" width="1" height="3" fill="#e0503f"/>
<line x1="541.5" y1="323" x2="541.5" y2="344" stroke="#000" stroke-width="1"/>
<rect x="540.0" y="329" width="3" height="14" fill="#5c130c"/>
<rect x="541.0" y="330" width="1" height="12" fill="#e0503f"/>
<line x1="545.5" y1="331" x2="545.5" y2="346" stroke="#000" stroke-width="1"/>
<rect x="544.0" y="335" width="3" height="8" fill="#1f5a3c"/>
<rect x="545.0" y="336" width="1" height="6" fill="#5fa57a"/>
<line x1="549.5" y1="319" x2="549.5" y2="349" stroke="#000" stroke-width="1"/>
<rect x="548.0" y="325" width="3" height="11" fill="#1f5a3c"/>
<rect x="549.0" y="326" width="1" height="9" fill="#5fa57a"/>
<line x1="553.5" y1="305" x2="553.5" y2="328" stroke="#000" stroke-width="1"/>
<rect x="552.0" y="313" width="3" height="12" fill="#1f5a3c"/>
<rect x="553.0" y="314" width="1" height="10" fill="#5fa57a"/>
<line x1="557.5" y1="311" x2="557.5" y2="321" stroke="#000" stroke-width="1"/>
<rect x="556.0" y="313" width="3" height="3" fill="#5c130c"/>
<rect x="557.0" y="314" width="1" height="1" fill="#e0503f"/>
<line x1="561.5" y1="291" x2="561.5" y2="315" stroke="#000" stroke-width="1"/>
<rect x="560.0" y="292" width="3" height="23" fill="#1f5a3c"/>
<rect x="561.0" y="293" width="1" height="21" fill="#5fa57a"/>
<line x1="565.5" y1="290" x2="565.5" y2="304" stroke="#000" stroke-width="1"/>
<rect x="564.0" y="295" width="3" height="8" fill="#5c130c"/>
<rect x="565.0" y="296" width="1" height="6" fill="#e0503f"/>
<line x1="569.5" y1="297" x2="569.5" y2="340" stroke="#000" stroke-width="1"/>
<rect x="568.0" y="303" width="3" height="37" fill="#5c130c"/>
<rect x="569.0" y="304" width="1" height="35" fill="#e0503f"/>
<line x1="573.5" y1="327" x2="573.5" y2="343" stroke="#000" stroke-width="1"/>
<rect x="572.0" y="338" width="3" height="2" fill="#1f5a3c"/>
<line x1="577.5" y1="315" x2="577.5" y2="341" stroke="#000" stroke-width="1"/>
<rect x="576.0" y="320" width="3" height="20" fill="#1f5a3c"/>
<rect x="577.0" y="321" width="1" height="18" fill="#5fa57a"/>
<line x1="581.5" y1="277" x2="581.5" y2="323" stroke="#000" stroke-width="1"/>
<rect x="580.0" y="280" width="3" height="41" fill="#1f5a3c"/>
<rect x="581.0" y="281" width="1" height="39" fill="#5fa57a"/>
<line x1="585.5" y1="230" x2="585.5" y2="276" stroke="#000" stroke-width="1"/>
<rect x="584.0" y="231" width="3" height="44" fill="#1f5a3c"/>
<rect x="585.0" y="232" width="1" height="42" fill="#5fa57a"/>
<line x1="589.5" y1="231" x2="589.5" y2="250" stroke="#000" stroke-width="1"/>
<rect x="588.0" y="231" width="3" height="11" fill="#5c130c"/>
<rect x="589.0" y="232" width="1" height="9" fill="#e0503f"/>
<line x1="593.5" y1="206" x2="593.5" y2="261" stroke="#000" stroke-width="1"/>
<rect x="592.0" y="226" width="3" height="17" fill="#1f5a3c"/>
<rect x="593.0" y="227" width="1" height="15" fill="#5fa57a"/>
<line x1="597.5" y1="211" x2="597.5" y2="238" stroke="#000" stroke-width="1"/>
<rect x="596.0" y="225" width="3" height="2" fill="#1f5a3c"/>
<line x1="601.5" y1="154" x2="601.5" y2="226" stroke="#000" stroke-width="1"/>
<rect x="600.0" y="154" width="3" height="70" fill="#1f5a3c"/>
<rect x="601.0" y="155" width="1" height="68" fill="#5fa57a"/>
<line x1="605.5" y1="133" x2="605.5" y2="177" stroke="#000" stroke-width="1"/>
<rect x="604.0" y="160" width="3" height="5" fill="#5c130c"/>
<rect x="605.0" y="161" width="1" height="3" fill="#e0503f"/>
<line x1="609.5" y1="158" x2="609.5" y2="209" stroke="#000" stroke-width="1"/>
<rect x="608.0" y="164" width="3" height="40" fill="#5c130c"/>
<rect x="609.0" y="165" width="1" height="38" fill="#e0503f"/>
<line x1="613.5" y1="164" x2="613.5" y2="210" stroke="#000" stroke-width="1"/>
<rect x="612.0" y="173" width="3" height="33" fill="#1f5a3c"/>
<rect x="613.0" y="174" width="1" height="31" fill="#5fa57a"/>
<line x1="617.5" y1="139" x2="617.5" y2="179" stroke="#000" stroke-width="1"/>
<rect x="616.0" y="149" width="3" height="26" fill="#1f5a3c"/>
<rect x="617.0" y="150" width="1" height="24" fill="#5fa57a"/>
<line x1="621.5" y1="140" x2="621.5" y2="168" stroke="#000" stroke-width="1"/>
<rect x="620.0" y="150" width="3" height="15" fill="#5c130c"/>
<rect x="621.0" y="151" width="1" height="13" fill="#e0503f"/>
<line x1="625.5" y1="163" x2="625.5" y2="200" stroke="#000" stroke-width="1"/>
<rect x="624.0" y="165" width="3" height="23" fill="#5c130c"/>
<rect x="625.0" y="166" width="1" height="21" fill="#e0503f"/>
<line x1="629.5" y1="168" x2="629.5" y2="194" stroke="#000" stroke-width="1"/>
<rect x="628.0" y="169" width="3" height="20" fill="#1f5a3c"/>
<rect x="629.0" y="170" width="1" height="18" fill="#5fa57a"/>
<line x1="633.5" y1="169" x2="633.5" y2="185" stroke="#000" stroke-width="1"/>
<rect x="632.0" y="172" width="3" height="8" fill="#5c130c"/>
<rect x="633.0" y="173" width="1" height="6" fill="#e0503f"/>
<line x1="637.5" y1="160" x2="637.5" y2="188" stroke="#000" stroke-width="1"/>
<rect x="636.0" y="163" width="3" height="18" fill="#1f5a3c"/>
<rect x="637.0" y="164" width="1" height="16" fill="#5fa57a"/>
<line x1="641.5" y1="155" x2="641.5" y2="176" stroke="#000" stroke-width="1"/>
<rect x="640.0" y="163" width="3" height="12" fill="#5c130c"/>
<rect x="641.0" y="164" width="1" height="10" fill="#e0503f"/>
<line x1="645.5" y1="152" x2="645.5" y2="194" stroke="#000" stroke-width="1"/>
<rect x="644.0" y="158" width="3" height="13" fill="#1f5a3c"/>
<rect x="645.0" y="159" width="1" height="11" fill="#5fa57a"/>
<line x1="649.5" y1="118" x2="649.5" y2="165" stroke="#000" stroke-width="1"/>
<rect x="648.0" y="122" width="3" height="38" fill="#1f5a3c"/>
<rect x="649.0" y="123" width="1" height="36" fill="#5fa57a"/>
<line x1="653.5" y1="111" x2="653.5" y2="133" stroke="#000" stroke-width="1"/>
<rect x="652.0" y="122" width="3" height="2" fill="#1f5a3c"/>
<line x1="657.5" y1="121" x2="657.5" y2="142" stroke="#000" stroke-width="1"/>
<rect x="656.0" y="122" width="3" height="14" fill="#5c130c"/>
<rect x="657.0" y="123" width="1" height="12" fill="#e0503f"/>
<line x1="661.5" y1="134" x2="661.5" y2="135" stroke="#000" stroke-width="1"/>
<rect x="660.0" y="133" width="3" height="2" fill="#1f5a3c"/>
<line x1="665.5" y1="136" x2="665.5" y2="161" stroke="#000" stroke-width="1"/>
<rect x="664.0" y="151" width="3" height="2" fill="#5c130c"/>
<line x1="669.5" y1="135" x2="669.5" y2="154" stroke="#000" stroke-width="1"/>
<rect x="668.0" y="139" width="3" height="14" fill="#1f5a3c"/>
<rect x="669.0" y="140" width="1" height="12" fill="#5fa57a"/>
<line x1="673.5" y1="115" x2="673.5" y2="141" stroke="#000" stroke-width="1"/>
<rect x="672.0" y="128" width="3" height="12" fill="#1f5a3c"/>
<rect x="673.0" y="129" width="1" height="10" fill="#5fa57a"/>
<line x1="677.5" y1="95" x2="677.5" y2="129" stroke="#000" stroke-width="1"/>
<rect x="676.0" y="103" width="3" height="26" fill="#1f5a3c"/>
<rect x="677.0" y="104" width="1" height="24" fill="#5fa57a"/>
<line x1="681.5" y1="96" x2="681.5" y2="149" stroke="#000" stroke-width="1"/>
<rect x="680.0" y="103" width="3" height="37" fill="#5c130c"/>
<rect x="681.0" y="104" width="1" height="35" fill="#e0503f"/>
<line x1="685.5" y1="128" x2="685.5" y2="162" stroke="#000" stroke-width="1"/>
<rect x="684.0" y="142" width="3" height="6" fill="#5c130c"/>
<rect x="685.0" y="143" width="1" height="4" fill="#e0503f"/>
<line x1="689.5" y1="131" x2="689.5" y2="152" stroke="#000" stroke-width="1"/>
<rect x="688.0" y="138" width="3" height="11" fill="#1f5a3c"/>
<rect x="689.0" y="139" width="1" height="9" fill="#5fa57a"/>
<line x1="693.5" y1="135" x2="693.5" y2="174" stroke="#000" stroke-width="1"/>
<rect x="692.0" y="139" width="3" height="9" fill="#5c130c"/>
<rect x="693.0" y="140" width="1" height="7" fill="#e0503f"/>
<line x1="697.5" y1="130" x2="697.5" y2="150" stroke="#000" stroke-width="1"/>
<rect x="696.0" y="138" width="3" height="11" fill="#1f5a3c"/>
<rect x="697.0" y="139" width="1" height="9" fill="#5fa57a"/>
<line x1="701.5" y1="137" x2="701.5" y2="171" stroke="#000" stroke-width="1"/>
<rect x="700.0" y="139" width="3" height="21" fill="#5c130c"/>
<rect x="701.0" y="140" width="1" height="19" fill="#e0503f"/>
<line x1="705.5" y1="151" x2="705.5" y2="169" stroke="#000" stroke-width="1"/>
<rect x="704.0" y="154" width="3" height="9" fill="#1f5a3c"/>
<rect x="705.0" y="155" width="1" height="7" fill="#5fa57a"/>
<line x1="709.5" y1="139" x2="709.5" y2="166" stroke="#000" stroke-width="1"/>
<rect x="708.0" y="146" width="3" height="9" fill="#1f5a3c"/>
<rect x="709.0" y="147" width="1" height="7" fill="#5fa57a"/>
<line x1="713.5" y1="133" x2="713.5" y2="160" stroke="#000" stroke-width="1"/>
<rect x="712.0" y="146" width="3" height="8" fill="#5c130c"/>
<rect x="713.0" y="147" width="1" height="6" fill="#e0503f"/>
<line x1="717.5" y1="139" x2="717.5" y2="169" stroke="#000" stroke-width="1"/>
<rect x="716.0" y="154" width="3" height="2" fill="#5c130c"/>
<line x1="721.5" y1="148" x2="721.5" y2="167" stroke="#000" stroke-width="1"/>
<rect x="720.0" y="153" width="3" height="3" fill="#1f5a3c"/>
<rect x="721.0" y="154" width="1" height="1" fill="#5fa57a"/>
<line x1="725.5" y1="137" x2="725.5" y2="166" stroke="#000" stroke-width="1"/>
<rect x="724.0" y="152" width="3" height="10" fill="#5c130c"/>
<rect x="725.0" y="153" width="1" height="8" fill="#e0503f"/>
<line x1="729.5" y1="123" x2="729.5" y2="165" stroke="#000" stroke-width="1"/>
<rect x="728.0" y="126" width="3" height="36" fill="#1f5a3c"/>
<rect x="729.0" y="127" width="1" height="34" fill="#5fa57a"/>
<line x1="733.5" y1="103" x2="733.5" y2="135" stroke="#000" stroke-width="1"/>
<rect x="732.0" y="104" width="3" height="23" fill="#1f5a3c"/>
<rect x="733.0" y="105" width="1" height="21" fill="#5fa57a"/>
<line x1="737.5" y1="62" x2="737.5" y2="113" stroke="#000" stroke-width="1"/>
<rect x="736.0" y="93" width="3" height="7" fill="#1f5a3c"/>
<rect x="737.0" y="94" width="1" height="5" fill="#5fa57a"/>
<line x1="741.5" y1="90" x2="741.5" y2="143" stroke="#000" stroke-width="1"/>
<rect x="740.0" y="94" width="3" height="33" fill="#5c130c"/>
<rect x="741.0" y="95" width="1" height="31" fill="#e0503f"/>
<line x1="745.5" y1="114" x2="745.5" y2="129" stroke="#000" stroke-width="1"/>
<rect x="744.0" y="121" width="3" height="6" fill="#1f5a3c"/>
<rect x="745.0" y="122" width="1" height="4" fill="#5fa57a"/>
<line x1="749.5" y1="105" x2="749.5" y2="123" stroke="#000" stroke-width="1"/>
<rect x="748.0" y="108" width="3" height="15" fill="#1f5a3c"/>
<rect x="749.0" y="109" width="1" height="13" fill="#5fa57a"/>
<line x1="753.5" y1="98" x2="753.5" y2="121" stroke="#000" stroke-width="1"/>
<rect x="752.0" y="109" width="3" height="5" fill="#5c130c"/>
<rect x="753.0" y="110" width="1" height="3" fill="#e0503f"/>
<line x1="757.5" y1="102" x2="757.5" y2="132" stroke="#000" stroke-width="1"/>
<rect x="756.0" y="113" width="3" height="16" fill="#5c130c"/>
<rect x="757.0" y="114" width="1" height="14" fill="#e0503f"/>
<line x1="761.5" y1="119" x2="761.5" y2="142" stroke="#000" stroke-width="1"/>
<rect x="760.0" y="128" width="3" height="5" fill="#5c130c"/>
<rect x="761.0" y="129" width="1" height="3" fill="#e0503f"/>
<line x1="765.5" y1="120" x2="765.5" y2="136" stroke="#000" stroke-width="1"/>
<rect x="764.0" y="126" width="3" height="10" fill="#1f5a3c"/>
<rect x="765.0" y="127" width="1" height="8" fill="#5fa57a"/>
<line x1="769.5" y1="124" x2="769.5" y2="157" stroke="#000" stroke-width="1"/>
<rect x="768.0" y="127" width="3" height="28" fill="#5c130c"/>
<rect x="769.0" y="128" width="1" height="26" fill="#e0503f"/>
<line x1="773.5" y1="150" x2="773.5" y2="168" stroke="#000" stroke-width="1"/>
<rect x="772.0" y="154" width="3" height="7" fill="#5c130c"/>
<rect x="773.0" y="155" width="1" height="5" fill="#e0503f"/>
<line x1="777.5" y1="157" x2="777.5" y2="191" stroke="#000" stroke-width="1"/>
<rect x="776.0" y="161" width="3" height="26" fill="#5c130c"/>
<rect x="777.0" y="162" width="1" height="24" fill="#e0503f"/>
<line x1="781.5" y1="159" x2="781.5" y2="189" stroke="#000" stroke-width="1"/>
<rect x="780.0" y="165" width="3" height="22" fill="#1f5a3c"/>
<rect x="781.0" y="166" width="1" height="20" fill="#5fa57a"/>
<line x1="785.5" y1="160" x2="785.5" y2="174" stroke="#000" stroke-width="1"/>
<rect x="784.0" y="166" width="3" height="6" fill="#5c130c"/>
<rect x="785.0" y="167" width="1" height="4" fill="#e0503f"/>
<line x1="789.5" y1="165" x2="789.5" y2="189" stroke="#000" stroke-width="1"/>
<rect x="788.0" y="168" width="3" height="5" fill="#1f5a3c"/>
<rect x="789.0" y="169" width="1" height="3" fill="#5fa57a"/>
<line x1="793.5" y1="158" x2="793.5" y2="187" stroke="#000" stroke-width="1"/>
<rect x="792.0" y="168" width="3" height="19" fill="#5c130c"/>
<rect x="793.0" y="169" width="1" height="17" fill="#e0503f"/>
<line x1="797.5" y1="178" x2="797.5" y2="205" stroke="#000" stroke-width="1"/>
<rect x="796.0" y="187" width="3" height="17" fill="#5c130c"/>
<rect x="797.0" y="188" width="1" height="15" fill="#e0503f"/>
<line x1="801.5" y1="186" x2="801.5" y2="207" stroke="#000" stroke-width="1"/>
<rect x="800.0" y="197" width="3" height="8" fill="#1f5a3c"/>
<rect x="801.0" y="198" width="1" height="6" fill="#5fa57a"/>
<line x1="805.5" y1="194" x2="805.5" y2="204" stroke="#000" stroke-width="1"/>
<rect x="804.0" y="201" width="3" height="2" fill="#5c130c"/>
<line x1="809.5" y1="180" x2="809.5" y2="212" stroke="#000" stroke-width="1"/>
<rect x="808.0" y="184" width="3" height="18" fill="#1f5a3c"/>
<rect x="809.0" y="185" width="1" height="16" fill="#5fa57a"/>
<line x1="813.5" y1="168" x2="813.5" y2="190" stroke="#000" stroke-width="1"/>
<rect x="812.0" y="181" width="3" height="4" fill="#1f5a3c"/>
<rect x="813.0" y="182" width="1" height="2" fill="#5fa57a"/>
<line x1="817.5" y1="159" x2="817.5" y2="190" stroke="#000" stroke-width="1"/>
<rect x="816.0" y="166" width="3" height="16" fill="#1f5a3c"/>
<rect x="817.0" y="167" width="1" height="14" fill="#5fa57a"/>
<line x1="821.5" y1="159" x2="821.5" y2="196" stroke="#000" stroke-width="1"/>
<rect x="820.0" y="166" width="3" height="30" fill="#5c130c"/>
<rect x="821.0" y="167" width="1" height="28" fill="#e0503f"/>
<line x1="825.5" y1="179" x2="825.5" y2="206" stroke="#000" stroke-width="1"/>
<rect x="824.0" y="182" width="3" height="7" fill="#1f5a3c"/>
<rect x="825.0" y="183" width="1" height="5" fill="#5fa57a"/>
<line x1="829.5" y1="177" x2="829.5" y2="189" stroke="#000" stroke-width="1"/>
<rect x="828.0" y="180" width="3" height="3" fill="#1f5a3c"/>
<rect x="829.0" y="181" width="1" height="1" fill="#5fa57a"/>
<line x1="833.5" y1="173" x2="833.5" y2="205" stroke="#000" stroke-width="1"/>
<rect x="832.0" y="180" width="3" height="24" fill="#5c130c"/>
<rect x="833.0" y="181" width="1" height="22" fill="#e0503f"/>
<line x1="837.5" y1="173" x2="837.5" y2="204" stroke="#000" stroke-width="1"/>
<rect x="836.0" y="178" width="3" height="25" fill="#1f5a3c"/>
<rect x="837.0" y="179" width="1" height="23" fill="#5fa57a"/>
<line x1="841.5" y1="170" x2="841.5" y2="187" stroke="#000" stroke-width="1"/>
<rect x="840.0" y="178" width="3" height="5" fill="#5c130c"/>
<rect x="841.0" y="179" width="1" height="3" fill="#e0503f"/>
<line x1="845.5" y1="177" x2="845.5" y2="193" stroke="#000" stroke-width="1"/>
<rect x="844.0" y="183" width="3" height="4" fill="#5c130c"/>
<rect x="845.0" y="184" width="1" height="2" fill="#e0503f"/>
<line x1="849.5" y1="172" x2="849.5" y2="204" stroke="#000" stroke-width="1"/>
<rect x="848.0" y="186" width="3" height="15" fill="#5c130c"/>
<rect x="849.0" y="187" width="1" height="13" fill="#e0503f"/>
<line x1="853.5" y1="183" x2="853.5" y2="204" stroke="#000" stroke-width="1"/>
<rect x="852.0" y="201" width="3" height="2" fill="#5c130c"/>
<line x1="857.5" y1="183" x2="857.5" y2="219" stroke="#000" stroke-width="1"/>
<rect x="856.0" y="185" width="3" height="17" fill="#1f5a3c"/>
<rect x="857.0" y="186" width="1" height="15" fill="#5fa57a"/>
<line x1="861.5" y1="175" x2="861.5" y2="189" stroke="#000" stroke-width="1"/>
<rect x="860.0" y="185" width="3" height="2" fill="#1f5a3c"/>
<line x1="865.5" y1="185" x2="865.5" y2="197" stroke="#000" stroke-width="1"/>
<rect x="864.0" y="186" width="3" height="9" fill="#5c130c"/>
<rect x="865.0" y="187" width="1" height="7" fill="#e0503f"/>
<line x1="869.5" y1="187" x2="869.5" y2="214" stroke="#000" stroke-width="1"/>
<rect x="868.0" y="196" width="3" height="13" fill="#5c130c"/>
<rect x="869.0" y="197" width="1" height="11" fill="#e0503f"/>
<line x1="873.5" y1="204" x2="873.5" y2="219" stroke="#000" stroke-width="1"/>
<rect x="872.0" y="208" width="3" height="4" fill="#5c130c"/>
<rect x="873.0" y="209" width="1" height="2" fill="#e0503f"/>
<line x1="877.5" y1="210" x2="877.5" y2="233" stroke="#000" stroke-width="1"/>
<rect x="876.0" y="213" width="3" height="19" fill="#5c130c"/>
<rect x="877.0" y="214" width="1" height="17" fill="#e0503f"/>
<line x1="881.5" y1="206" x2="881.5" y2="235" stroke="#000" stroke-width="1"/>
<rect x="880.0" y="224" width="3" height="9" fill="#1f5a3c"/>
<rect x="881.0" y="225" width="1" height="7" fill="#5fa57a"/>
<line x1="885.5" y1="211" x2="885.5" y2="223" stroke="#000" stroke-width="1"/>
<rect x="884.0" y="218" width="3" height="4" fill="#5c130c"/>
<rect x="885.0" y="219" width="1" height="2" fill="#e0503f"/>
<line x1="889.5" y1="213" x2="889.5" y2="233" stroke="#000" stroke-width="1"/>
<rect x="888.0" y="222" width="3" height="10" fill="#5c130c"/>
<rect x="889.0" y="223" width="1" height="8" fill="#e0503f"/>
<line x1="893.5" y1="227" x2="893.5" y2="243" stroke="#000" stroke-width="1"/>
<rect x="892.0" y="231" width="3" height="8" fill="#5c130c"/>
<rect x="893.0" y="232" width="1" height="6" fill="#e0503f"/>
<line x1="897.5" y1="230" x2="897.5" y2="253" stroke="#000" stroke-width="1"/>
<rect x="896.0" y="236" width="3" height="2" fill="#1f5a3c"/>
<line x1="901.5" y1="222" x2="901.5" y2="245" stroke="#000" stroke-width="1"/>
<rect x="900.0" y="225" width="3" height="14" fill="#1f5a3c"/>
<rect x="901.0" y="226" width="1" height="12" fill="#5fa57a"/>
<line x1="905.5" y1="213" x2="905.5" y2="235" stroke="#000" stroke-width="1"/>
<rect x="904.0" y="223" width="3" height="4" fill="#1f5a3c"/>
<rect x="905.0" y="224" width="1" height="2" fill="#5fa57a"/>
<line x1="909.5" y1="213" x2="909.5" y2="226" stroke="#000" stroke-width="1"/>
<rect x="908.0" y="220" width="3" height="6" fill="#1f5a3c"/>
<rect x="909.0" y="221" width="1" height="4" fill="#5fa57a"/>
<line x1="913.5" y1="209" x2="913.5" y2="231" stroke="#000" stroke-width="1"/>
<rect x="912.0" y="220" width="3" height="11" fill="#5c130c"/>
<rect x="913.0" y="221" width="1" height="9" fill="#e0503f"/>
<line x1="917.5" y1="217" x2="917.5" y2="243" stroke="#000" stroke-width="1"/>
<rect x="916.0" y="230" width="3" height="5" fill="#5c130c"/>
<rect x="917.0" y="231" width="1" height="3" fill="#e0503f"/>
<line x1="921.5" y1="209" x2="921.5" y2="236" stroke="#000" stroke-width="1"/>
<rect x="920.0" y="219" width="3" height="17" fill="#1f5a3c"/>
<rect x="921.0" y="220" width="1" height="15" fill="#5fa57a"/>
<line x1="925.5" y1="216" x2="925.5" y2="233" stroke="#000" stroke-width="1"/>
<rect x="924.0" y="219" width="3" height="2" fill="#1f5a3c"/>
<line x1="929.5" y1="205" x2="929.5" y2="221" stroke="#000" stroke-width="1"/>
<rect x="928.0" y="212" width="3" height="9" fill="#1f5a3c"/>
<rect x="929.0" y="213" width="1" height="7" fill="#5fa57a"/>
<line x1="933.5" y1="184" x2="933.5" y2="212" stroke="#000" stroke-width="1"/>
<rect x="932.0" y="186" width="3" height="26" fill="#1f5a3c"/>
<rect x="933.0" y="187" width="1" height="24" fill="#5fa57a"/>
<line x1="937.5" y1="179" x2="937.5" y2="192" stroke="#000" stroke-width="1"/>
<rect x="936.0" y="183" width="3" height="7" fill="#1f5a3c"/>
<rect x="937.0" y="184" width="1" height="5" fill="#5fa57a"/>
<line x1="941.5" y1="179" x2="941.5" y2="192" stroke="#000" stroke-width="1"/>
<rect x="940.0" y="183" width="3" height="6" fill="#5c130c"/>
<rect x="941.0" y="184" width="1" height="4" fill="#e0503f"/>
<line x1="945.5" y1="183" x2="945.5" y2="198" stroke="#000" stroke-width="1"/>
<rect x="944.0" y="188" width="3" height="2" fill="#1f5a3c"/>
<line x1="949.5" y1="158" x2="949.5" y2="191" stroke="#000" stroke-width="1"/>
<rect x="948.0" y="164" width="3" height="27" fill="#1f5a3c"/>
<rect x="949.0" y="165" width="1" height="25" fill="#5fa57a"/>
<line x1="953.5" y1="162" x2="953.5" y2="173" stroke="#000" stroke-width="1"/>
<rect x="952.0" y="165" width="3" height="2" fill="#1f5a3c"/>
<line x1="957.5" y1="155" x2="957.5" y2="178" stroke="#000" stroke-width="1"/>
<rect x="956.0" y="166" width="3" height="9" fill="#5c130c"/>
<rect x="957.0" y="167" width="1" height="7" fill="#e0503f"/>
<line x1="961.5" y1="169" x2="961.5" y2="186" stroke="#000" stroke-width="1"/>
<rect x="960.0" y="174" width="3" height="8" fill="#5c130c"/>
<rect x="961.0" y="175" width="1" height="6" fill="#e0503f"/>
<line x1="965.5" y1="176" x2="965.5" y2="190" stroke="#000" stroke-width="1"/>
<rect x="964.0" y="176" width="3" height="14" fill="#5c130c"/>
<rect x="965.0" y="177" width="1" height="12" fill="#e0503f"/>
<line x1="969.5" y1="177" x2="969.5" y2="191" stroke="#000" stroke-width="1"/>
<rect x="968.0" y="178" width="3" height="11" fill="#1f5a3c"/>
<rect x="969.0" y="179" width="1" height="9" fill="#5fa57a"/>
<line x1="973.5" y1="165" x2="973.5" y2="181" stroke="#000" stroke-width="1"/>
<rect x="972.0" y="171" width="3" height="8" fill="#1f5a3c"/>
<rect x="973.0" y="172" width="1" height="6" fill="#5fa57a"/>
<line x1="977.5" y1="161" x2="977.5" y2="201" stroke="#000" stroke-width="1"/>
<rect x="976.0" y="172" width="3" height="27" fill="#5c130c"/>
<rect x="977.0" y="173" width="1" height="25" fill="#e0503f"/>
<line x1="981.5" y1="179" x2="981.5" y2="199" stroke="#000" stroke-width="1"/>
<rect x="980.0" y="184" width="3" height="14" fill="#1f5a3c"/>
<rect x="981.0" y="185" width="1" height="12" fill="#5fa57a"/>
<line x1="985.5" y1="171" x2="985.5" y2="193" stroke="#000" stroke-width="1"/>
<rect x="984.0" y="178" width="3" height="7" fill="#1f5a3c"/>
<rect x="985.0" y="179" width="1" height="5" fill="#5fa57a"/>
<line x1="989.5" y1="177" x2="989.5" y2="202" stroke="#000" stroke-width="1"/>
<rect x="988.0" y="178" width="3" height="23" fill="#5c130c"/>
<rect x="989.0" y="179" width="1" height="21" fill="#e0503f"/>
<line x1="993.5" y1="189" x2="993.5" y2="211" stroke="#000" stroke-width="1"/>
<rect x="992.0" y="192" width="3" height="18" fill="#5c130c"/>
<rect x="993.0" y="193" width="1" height="16" fill="#e0503f"/>
<line x1="997.5" y1="205" x2="997.5" y2="215" stroke="#000" stroke-width="1"/>
<rect x="996.0" y="209" width="3" height="2" fill="#1f5a3c"/>
<line x1="1001.5" y1="197" x2="1001.5" y2="219" stroke="#000" stroke-width="1"/>
<rect x="1000.0" y="201" width="3" height="10" fill="#1f5a3c"/>
<rect x="1001.0" y="202" width="1" height="8" fill="#5fa57a"/>
<line x1="1005.5" y1="197" x2="1005.5" y2="213" stroke="#000" stroke-width="1"/>
<rect x="1004.0" y="207" width="3" height="4" fill="#1f5a3c"/>
<rect x="1005.0" y="208" width="1" height="2" fill="#5fa57a"/>
<line x1="1009.5" y1="206" x2="1009.5" y2="221" stroke="#000" stroke-width="1"/>
<rect x="1008.0" y="208" width="3" height="12" fill="#5c130c"/>
<rect x="1009.0" y="209" width="1" height="10" fill="#e0503f"/>
<line x1="1013.5" y1="212" x2="1013.5" y2="231" stroke="#000" stroke-width="1"/>
<rect x="1012.0" y="221" width="3" height="10" fill="#5c130c"/>
<rect x="1013.0" y="222" width="1" height="8" fill="#e0503f"/>
<line x1="1017.5" y1="214" x2="1017.5" y2="234" stroke="#000" stroke-width="1"/>
<rect x="1016.0" y="230" width="3" height="4" fill="#5c130c"/>
<rect x="1017.0" y="231" width="1" height="2" fill="#e0503f"/>
<line x1="1021.5" y1="224" x2="1021.5" y2="234" stroke="#000" stroke-width="1"/>
<rect x="1020.0" y="231" width="3" height="2" fill="#1f5a3c"/>
<line x1="1025.5" y1="229" x2="1025.5" y2="244" stroke="#000" stroke-width="1"/>
<rect x="1024.0" y="232" width="3" height="7" fill="#5c130c"/>
<rect x="1025.0" y="233" width="1" height="5" fill="#e0503f"/>
<line x1="1029.5" y1="233" x2="1029.5" y2="249" stroke="#000" stroke-width="1"/>
<rect x="1028.0" y="238" width="3" height="7" fill="#5c130c"/>
<rect x="1029.0" y="239" width="1" height="5" fill="#e0503f"/>
<line x1="1033.5" y1="238" x2="1033.5" y2="255" stroke="#000" stroke-width="1"/>
<rect x="1032.0" y="244" width="3" height="11" fill="#5c130c"/>
<rect x="1033.0" y="245" width="1" height="9" fill="#e0503f"/>
<line x1="1037.5" y1="247" x2="1037.5" y2="261" stroke="#000" stroke-width="1"/>
<rect x="1036.0" y="254" width="3" height="4" fill="#5c130c"/>
<rect x="1037.0" y="255" width="1" height="2" fill="#e0503f"/>
<line x1="1041.5" y1="249" x2="1041.5" y2="260" stroke="#000" stroke-width="1"/>
<rect x="1040.0" y="256" width="3" height="2" fill="#1f5a3c"/>
<line x1="1045.5" y1="247" x2="1045.5" y2="262" stroke="#000" stroke-width="1"/>
<rect x="1044.0" y="251" width="3" height="6" fill="#1f5a3c"/>
<rect x="1045.0" y="252" width="1" height="4" fill="#5fa57a"/>
<line x1="1049.5" y1="241" x2="1049.5" y2="257" stroke="#000" stroke-width="1"/>
<rect x="1048.0" y="248" width="3" height="5" fill="#1f5a3c"/>
<rect x="1049.0" y="249" width="1" height="3" fill="#5fa57a"/>
<line x1="1053.5" y1="224" x2="1053.5" y2="250" stroke="#000" stroke-width="1"/>
<rect x="1052.0" y="229" width="3" height="21" fill="#1f5a3c"/>
<rect x="1053.0" y="230" width="1" height="19" fill="#5fa57a"/>
<line x1="1057.5" y1="221" x2="1057.5" y2="237" stroke="#000" stroke-width="1"/>
<rect x="1056.0" y="228" width="3" height="2" fill="#1f5a3c"/>
<line x1="1061.5" y1="222" x2="1061.5" y2="242" stroke="#000" stroke-width="1"/>
<rect x="1060.0" y="228" width="3" height="3" fill="#5c130c"/>
<rect x="1061.0" y="229" width="1" height="1" fill="#e0503f"/>
<line x1="1065.5" y1="218" x2="1065.5" y2="231" stroke="#000" stroke-width="1"/>
<rect x="1064.0" y="224" width="3" height="6" fill="#1f5a3c"/>
<rect x="1065.0" y="225" width="1" height="4" fill="#5fa57a"/>
<line x1="1069.5" y1="206" x2="1069.5" y2="230" stroke="#000" stroke-width="1"/>
<rect x="1068.0" y="207" width="3" height="19" fill="#1f5a3c"/>
<rect x="1069.0" y="208" width="1" height="17" fill="#5fa57a"/>
<line x1="1073.5" y1="194" x2="1073.5" y2="209" stroke="#000" stroke-width="1"/>
<rect x="1072.0" y="201" width="3" height="7" fill="#1f5a3c"/>
<rect x="1073.0" y="202" width="1" height="5" fill="#5fa57a"/>
<line x1="1077.5" y1="196" x2="1077.5" y2="205" stroke="#000" stroke-width="1"/>
<rect x="1076.0" y="201" width="3" height="4" fill="#5c130c"/>
<rect x="1077.0" y="202" width="1" height="2" fill="#e0503f"/>
<line x1="1081.5" y1="190" x2="1081.5" y2="209" stroke="#000" stroke-width="1"/>
<rect x="1080.0" y="204" width="3" height="2" fill="#1f5a3c"/>
<line x1="1085.5" y1="197" x2="1085.5" y2="207" stroke="#000" stroke-width="1"/>
<rect x="1084.0" y="204" width="3" height="2" fill="#5c130c"/>
<line x1="1089.5" y1="205" x2="1089.5" y2="219" stroke="#000" stroke-width="1"/>
<rect x="1088.0" y="205" width="3" height="14" fill="#5c130c"/>
<rect x="1089.0" y="206" width="1" height="12" fill="#e0503f"/>
<line x1="1093.5" y1="215" x2="1093.5" y2="229" stroke="#000" stroke-width="1"/>
<rect x="1092.0" y="219" width="3" height="10" fill="#5c130c"/>
<rect x="1093.0" y="220" width="1" height="8" fill="#e0503f"/>
<line x1="1097.5" y1="221" x2="1097.5" y2="229" stroke="#000" stroke-width="1"/>
<rect x="1096.0" y="225" width="3" height="4" fill="#1f5a3c"/>
<rect x="1097.0" y="226" width="1" height="2" fill="#5fa57a"/>
<line x1="1101.5" y1="214" x2="1101.5" y2="227" stroke="#000" stroke-width="1"/>
<rect x="1100.0" y="225" width="3" height="2" fill="#5c130c"/>
<line x1="1105.5" y1="213" x2="1105.5" y2="228" stroke="#000" stroke-width="1"/>
<rect x="1104.0" y="222" width="3" height="4" fill="#1f5a3c"/>
<rect x="1105.0" y="223" width="1" height="2" fill="#5fa57a"/>
<line x1="1109.5" y1="220" x2="1109.5" y2="238" stroke="#000" stroke-width="1"/>
<rect x="1108.0" y="222" width="3" height="10" fill="#5c130c"/>
<rect x="1109.0" y="223" width="1" height="8" fill="#e0503f"/>
<line x1="1113.5" y1="229" x2="1113.5" y2="240" stroke="#000" stroke-width="1"/>
<rect x="1112.0" y="232" width="3" height="6" fill="#5c130c"/>
<rect x="1113.0" y="233" width="1" height="4" fill="#e0503f"/>
<line x1="1117.5" y1="233" x2="1117.5" y2="244" stroke="#000" stroke-width="1"/>
<rect x="1116.0" y="234" width="3" height="4" fill="#1f5a3c"/>
<rect x="1117.0" y="235" width="1" height="2" fill="#5fa57a"/>
<line x1="1121.5" y1="214" x2="1121.5" y2="235" stroke="#000" stroke-width="1"/>
<rect x="1120.0" y="221" width="3" height="14" fill="#1f5a3c"/>
<rect x="1121.0" y="222" width="1" height="12" fill="#5fa57a"/>
<line x1="1125.5" y1="210" x2="1125.5" y2="222" stroke="#000" stroke-width="1"/>
<rect x="1124.0" y="210" width="3" height="12" fill="#1f5a3c"/>
<rect x="1125.0" y="211" width="1" height="10" fill="#5fa57a"/>
<line x1="1129.5" y1="206" x2="1129.5" y2="214" stroke="#000" stroke-width="1"/>
<rect x="1128.0" y="211" width="3" height="3" fill="#5c130c"/>
<rect x="1129.0" y="212" width="1" height="1" fill="#e0503f"/>
<line x1="1133.5" y1="196" x2="1133.5" y2="216" stroke="#000" stroke-width="1"/>
<rect x="1132.0" y="212" width="3" height="3" fill="#5c130c"/>
<rect x="1133.0" y="213" width="1" height="1" fill="#e0503f"/>
<line x1="1137.5" y1="209" x2="1137.5" y2="231" stroke="#000" stroke-width="1"/>
<rect x="1136.0" y="213" width="3" height="13" fill="#5c130c"/>
<rect x="1137.0" y="214" width="1" height="11" fill="#e0503f"/>
<line x1="1141.5" y1="216" x2="1141.5" y2="227" stroke="#000" stroke-width="1"/>
<rect x="1140.0" y="219" width="3" height="7" fill="#1f5a3c"/>
<rect x="1141.0" y="220" width="1" height="5" fill="#5fa57a"/>
<line x1="1145.5" y1="217" x2="1145.5" y2="230" stroke="#000" stroke-width="1"/>
<rect x="1144.0" y="219" width="3" height="10" fill="#5c130c"/>
<rect x="1145.0" y="220" width="1" height="8" fill="#e0503f"/>
<line x1="1149.5" y1="228" x2="1149.5" y2="246" stroke="#000" stroke-width="1"/>
<rect x="1148.0" y="229" width="3" height="16" fill="#5c130c"/>
<rect x="1149.0" y="230" width="1" height="14" fill="#e0503f"/>
<line x1="1153.5" y1="241" x2="1153.5" y2="274" stroke="#000" stroke-width="1"/>
<rect x="1152.0" y="246" width="3" height="27" fill="#5c130c"/>
<rect x="1153.0" y="247" width="1" height="25" fill="#e0503f"/>
<line x1="1157.5" y1="267" x2="1157.5" y2="291" stroke="#000" stroke-width="1"/>
<rect x="1156.0" y="271" width="3" height="13" fill="#5c130c"/>
<rect x="1157.0" y="272" width="1" height="11" fill="#e0503f"/>
<line x1="1161.5" y1="267" x2="1161.5" y2="303" stroke="#000" stroke-width="1"/>
<rect x="1160.0" y="282" width="3" height="20" fill="#5c130c"/>
<rect x="1161.0" y="283" width="1" height="18" fill="#e0503f"/>
<line x1="1165.5" y1="299" x2="1165.5" y2="324" stroke="#000" stroke-width="1"/>
<rect x="1164.0" y="301" width="3" height="23" fill="#5c130c"/>
<rect x="1165.0" y="302" width="1" height="21" fill="#e0503f"/>
<line x1="1169.5" y1="317" x2="1169.5" y2="337" stroke="#000" stroke-width="1"/>
<rect x="1168.0" y="323" width="3" height="7" fill="#5c130c"/>
<rect x="1169.0" y="324" width="1" height="5" fill="#e0503f"/>
<line x1="1173.5" y1="320" x2="1173.5" y2="335" stroke="#000" stroke-width="1"/>
<rect x="1172.0" y="327" width="3" height="2" fill="#1f5a3c"/>
</g>
<path d="M1153.0,699.9 L1153.1,699.1 L1157.5,705.5 L1162.1,712.4 L1165.9,719.3 L1169.8,720.6 L1174.1,719.8 L1174.1,699.9 Z" fill="url(#rg)"/>
<polyline points="12.5,672.3 13.3,670.8 20.6,662.5 23.9,675.8 27.9,676.4 34.9,689.7 40.6,698.0 44.2,683.8 48.2,685.4 51.9,689.7 56.5,675.4 60.5,680.4 68.2,667.5 72.1,680.4 76.5,683.1 80.5,698.0 84.1,689.1 88.1,688.7 92.1,693.1 97.1,685.7 100.7,687.4 104.1,698.0 108.0,707.0 111.4,699.7 116.4,677.4 123.7,677.1 128.0,653.2 132.0,639.9 136.3,645.5 140.3,648.8 143.9,658.2 147.9,671.4 151.9,672.4 156.2,668.5 160.2,672.4 163.9,682.4 167.9,678.1 171.9,677.1 177.2,687.4 181.2,688.1 184.5,667.1 188.5,671.1 192.8,667.5 196.8,661.5 200.5,662.5 204.5,673.1 208.4,679.1 212.1,669.1 216.1,674.8 220.4,679.1 224.4,648.2 227.7,650.8 231.7,634.9 236.0,638.9 240.0,622.6 243.7,618.3 251.7,615.6 256.0,619.3 260.3,626.6 264.3,634.9 268.3,643.2 272.6,641.5 280.9,634.9 284.2,636.5 288.2,645.9 292.6,640.5 295.9,633.2 300.9,619.3 304.2,623.2 308.2,642.5 312.5,641.5 316.5,635.9 320.5,633.9 324.8,630.6 328.1,641.5 333.4,629.2 336.8,631.6 340.4,650.8 344.1,643.9 348.1,646.5 353.1,633.9 356.7,635.9 360.7,649.8 364.0,647.2 368.4,639.9 373.0,645.5 377.3,640.9 381.3,637.2 385.0,636.5 389.0,628.9 393.3,623.2 396.6,639.2 400.6,626.6 404.6,624.2 408.9,622.2 412.9,623.2 420.5,608.9 424.5,612.6 428.9,619.3 432.8,622.2 436.8,612.6 440.8,617.6 444.8,615.6 453.1,610.6 457.1,624.9 461.1,627.2 464.8,630.6 468.8,627.6 473.1,619.3 477.1,644.9 481.1,672.1 484.7,670.8 488.7,667.5 493.7,666.5 497.0,673.1 500.0,670.2 503.8,676.6 507.7,676.1 513.3,685.5 516.6,685.0 521.0,679.6 524.8,680.9 528.6,684.2 533.2,689.4 537.1,691.1 540.9,697.0 544.8,690.1 548.6,679.6 552.9,670.9 556.8,672.0 560.6,654.3 563.9,662.0 568.0,683.0 572.9,682.4 576.7,668.9 580.6,645.9 584.4,627.2 589.5,633.1 593.4,628.2 596.7,627.7 600.5,607.5 604.3,614.4 609.5,635.6 613.3,627.2 617.1,621.1 620.2,628.0 624.6,640.0 629.2,634.4 633.0,638.7 636.8,633.9 640.7,639.5 645.0,633.6 649.6,623.6 653.5,623.6 657.3,631.0 660.6,631.0 664.5,641.3 668.8,636.9 673.4,631.8 677.0,624.1 681.1,643.8 684.7,647.9 689.3,643.8 693.1,649.7 696.9,645.1 700.8,656.6 705.1,653.3 709.2,649.7 713.0,654.1 716.9,655.1 720.7,654.3 724.6,658.7 728.9,642.0 732.7,631.8 737.1,627.2 740.4,647.9 744.2,645.9 749.4,640.0 753.2,642.8 757.0,651.0 760.9,654.3 764.7,651.0 769.1,666.3 772.9,670.2 776.7,681.2 780.6,668.9 784.4,671.7 789.0,669.9 793.4,679.1 797.2,685.5 801.0,680.9 804.3,683.5 809.5,670.9 813.3,668.9 817.1,659.4 821.0,675.3 824.3,667.1 828.6,665.8 833.0,677.3 836.8,662.0 840.9,664.5 845.3,666.3 849.9,673.5 853.7,674.5 857.3,663.5 861.1,663.8 865.7,668.9 869.6,676.1 873.4,678.4 877.2,688.1 880.0,682.2 885.6,679.6 889.7,685.0 893.3,688.6 897.1,687.6 901.0,677.1 904.8,675.3 909.4,672.0 913.2,679.1 917.1,682.2 920.9,667.1 925.3,667.1 929.1,661.2 933.2,640.8 937.0,638.7 940.9,643.8 946.0,644.6 949.6,628.0 953.4,630.0 957.2,638.2 961.1,646.4 965.7,653.0 969.5,644.6 973.4,639.5 977.2,663.3 981.0,652.8 985.6,648.4 989.5,664.5 993.3,670.7 997.1,671.2 1001.0,663.8 1005.8,668.9 1009.7,676.6 1013.5,683.0 1017.3,684.7 1021.2,683.0 1025.0,686.3 1029.6,690.6 1033.5,696.5 1036.8,697.8 1040.6,697.8 1045.0,691.1 1049.3,686.3 1053.4,664.5 1057.0,663.5 1060.8,665.8 1065.4,659.9 1069.3,642.8 1073.1,638.7 1076.9,641.5 1081.3,641.5 1085.9,643.8 1089.7,659.2 1093.6,669.7 1097.4,665.6 1101.7,666.3 1105.6,662.0 1109.4,672.0 1113.2,677.8 1117.1,674.0 1121.7,658.7 1125.5,646.4 1129.4,649.2 1133.2,650.5 1137.0,663.8 1141.6,657.4 1145.5,667.6 1149.3,682.2 1153.1,699.1 1157.5,705.5 1162.1,712.4 1165.9,719.3 1169.8,720.6 1174.1,719.8" fill="none" stroke="#7e57c2" stroke-width="2.4" clip-path="url(#cpr)" stroke-linejoin="round" stroke-linecap="round"/>
<line x1="13.0" y1="601.3" x2="1551.3" y2="601.3" stroke="#e0e3eb" stroke-width="1.2" />
<line x1="1476.4" y1="34.0" x2="1476.4" y2="762.7" stroke="#45464d" stroke-width="1.1" />
<line x1="13.0" y1="728.4" x2="1551.3" y2="728.4" stroke="#45464d" stroke-width="1.1" />
<rect x="13.0" y="34.0" width="1538.3" height="728.7" fill="none" stroke="#eff0f6" stroke-width="2"/>
<line x1="13.5" y1="413.1" x2="13.5" y2="426.7" stroke="#86b39b" stroke-width="1.1" />
<text x="1485.7" y="108.0" font-size="14.2" fill="#44464e" textLength="47.4" lengthAdjust="spacingAndGlyphs" >2040.00</text>
<text x="1485.7" y="148.0" font-size="14.2" fill="#44464e" textLength="47.4" lengthAdjust="spacingAndGlyphs" >2000.00</text>
<text x="1485.7" y="188.0" font-size="14.2" fill="#44464e" textLength="47.4" lengthAdjust="spacingAndGlyphs" >1960.00</text>
<text x="1485.7" y="282.0" font-size="14.2" fill="#44464e" textLength="47.4" lengthAdjust="spacingAndGlyphs" >1870.00</text>
<text x="1485.7" y="325.0" font-size="14.2" fill="#44464e" textLength="47.4" lengthAdjust="spacingAndGlyphs" >1830.00</text>
<text x="1485.7" y="416.0" font-size="14.2" fill="#44464e" textLength="47.4" lengthAdjust="spacingAndGlyphs" >1750.00</text>
<text x="1485.7" y="462.0" font-size="14.2" fill="#44464e" textLength="47.4" lengthAdjust="spacingAndGlyphs" >1710.00</text>
<text x="1485.7" y="497.0" font-size="14.2" fill="#44464e" textLength="47.4" lengthAdjust="spacingAndGlyphs" >1680.00</text>
<text x="1485.7" y="533.0" font-size="14.2" fill="#44464e" textLength="47.4" lengthAdjust="spacingAndGlyphs" >1650.00</text>
<text x="1485.7" y="572.0" font-size="14.2" fill="#44464e" textLength="47.4" lengthAdjust="spacingAndGlyphs" >1618.00</text>
<text x="1485.3" y="644.4" font-size="14.2" fill="#44464e" textLength="33.6" lengthAdjust="spacingAndGlyphs" >60.00</text>
<text x="1485.3" y="684.4" font-size="14.2" fill="#44464e" textLength="33.6" lengthAdjust="spacingAndGlyphs" >40.00</text>
<text x="1485.3" y="724.8" font-size="14.2" fill="#44464e" textLength="33.6" lengthAdjust="spacingAndGlyphs" >20.00</text>
<rect x="1480.8" y="38.7" width="64.4" height="32.2" rx="4.5" fill="#fff" stroke="#e6e8f0" stroke-width="1.3"/>
<text x="1492.7" y="59.2" font-size="13.6" fill="#2b2d35" textLength="22.5" lengthAdjust="spacingAndGlyphs" >USD</text>
<text x="1361.5" y="333.2" font-size="14.6" fill="#d1232a" textLength="104.2" lengthAdjust="spacingAndGlyphs" stroke="#d1232a" stroke-width="0.25">1.272 (1833.12)</text>
<text x="1361.5" y="364.9" font-size="14.6" fill="#d1232a" textLength="104.2" lengthAdjust="spacingAndGlyphs" stroke="#d1232a" stroke-width="0.25">0.618 (1794.34)</text>
<line x1="1470.5" y1="360.0" x2="1476.4" y2="360.0" stroke="#d1232a" stroke-width="1.8" />
<text x="1361.5" y="372.6" font-size="14.6" fill="#cc1f9a" textLength="104.2" lengthAdjust="spacingAndGlyphs" stroke="#cc1f9a" stroke-width="0.25">1.618 (1786.97)</text>
<line x1="1470.5" y1="367.7" x2="1476.4" y2="367.7" stroke="#cc1f9a" stroke-width="1.8" />
<text x="1361.5" y="438.5" font-size="14.6" fill="#7d7d7d" textLength="104.2" lengthAdjust="spacingAndGlyphs" stroke="#7d7d7d" stroke-width="0.25">1.272 (1729.30)</text>
<line x1="1470.5" y1="433.6" x2="1476.4" y2="433.6" stroke="#7d7d7d" stroke-width="1.8" />
<text x="1361.5" y="453.5" font-size="14.6" fill="#2f7d1f" textLength="104.2" lengthAdjust="spacingAndGlyphs" stroke="#2f7d1f" stroke-width="0.25">0.786 (1716.19)</text>
<line x1="1470.5" y1="448.6" x2="1476.4" y2="448.6" stroke="#2f7d1f" stroke-width="1.8" />
<text x="1361.5" y="552.9" font-size="14.6" fill="#22c08a" textLength="104.2" lengthAdjust="spacingAndGlyphs" stroke="#22c08a" stroke-width="0.25">1.618 (1633.41)</text>
<line x1="1470.5" y1="548.0" x2="1476.4" y2="548.0" stroke="#22c08a" stroke-width="1.8" />
<line x1="1355.5" y1="328.3" x2="1416.0" y2="328.3" stroke="#4f9f78" stroke-width="1" stroke-dasharray="1 2"/>
<path d="M1476.2,213.9H1537.2Q1539.8,213.9 1539.8,216.5V233.3Q1539.8,235.9 1537.2,235.9H1476.2Z" fill="#ba68c8"/>
<text x="1486.6" y="228.6" font-size="13.8" fill="#fff" textLength="47.1" lengthAdjust="spacingAndGlyphs" font-weight="bold" >1900.93</text>
<path d="M1476.2,230.0H1537.2Q1539.8,230.0 1539.8,232.6V248.9Q1539.8,251.5 1537.2,251.5H1476.2Z" fill="#ba68c8"/>
<text x="1486.6" y="247.9" font-size="13.8" fill="#fff" textLength="47.1" lengthAdjust="spacingAndGlyphs" font-weight="bold" >1892.93</text>
<path d="M1476.2,253.1H1537.2Q1539.8,253.1 1539.8,255.7V268.8Q1539.8,271.4 1537.2,271.4H1476.2Z" fill="#ba68c8"/>
<text x="1486.6" y="267.7" font-size="13.8" fill="#fff" textLength="47.1" lengthAdjust="spacingAndGlyphs" font-weight="bold" >1884.81</text>
<path d="M1418.6,319.1H1474.8V337.7H1418.6Q1416.0,337.7 1416.0,335.1V321.7Q1416.0,319.1 1418.6,319.1Z" fill="#6ba583"/>
<text x="1420.2" y="333.9" font-size="14.2" fill="#fff" textLength="48.5" lengthAdjust="spacingAndGlyphs" >XAUUSD</text>
<path d="M1476.2,319.1H1541.7Q1544.7,319.1 1544.7,322.1V350.6Q1544.7,353.6 1541.7,353.6H1476.2Z" fill="#6ba583"/>
<text x="1486.3" y="334.0" font-size="13.8" fill="#fff" textLength="46.7" lengthAdjust="spacingAndGlyphs" font-weight="bold" >1823.21</text>
<text x="1486.0" y="350.0" font-size="14.0" fill="#e4efe8" textLength="53.3" lengthAdjust="spacingAndGlyphs" >01:09:16</text>
<path d="M1476.2,355.3H1537.0Q1539.6,355.3 1539.6,357.9V371.4Q1539.6,374.0 1537.0,374.0H1476.2Z" fill="#e91e63"/>
<text x="1486.3" y="369.9" font-size="13.8" fill="#fff" textLength="46.7" lengthAdjust="spacingAndGlyphs" font-weight="bold" >1804.68</text>
<path d="M1476.2,374.7H1537.0Q1539.6,374.7 1539.6,377.3V390.4Q1539.6,393.0 1537.0,393.0H1476.2Z" fill="#ba68c8"/>
<text x="1486.3" y="389.1" font-size="13.8" fill="#fff" textLength="46.7" lengthAdjust="spacingAndGlyphs" font-weight="bold" >1804.68</text>
<path d="M1476.2,394.0H1537.0Q1539.6,394.0 1539.6,396.6V410.1Q1539.6,412.7 1537.0,412.7H1476.2Z" fill="#ba68c8"/>
<text x="1486.3" y="408.6" font-size="13.8" fill="#fff" textLength="46.7" lengthAdjust="spacingAndGlyphs" font-weight="bold" >1803.06</text>
<text x="29.0" y="750.2" font-size="14.5" fill="#44464e" textLength="22.0" lengthAdjust="spacingAndGlyphs" >Sep</text>
<text x="200.4" y="750.2" font-size="14.5" fill="#44464e" textLength="23.5" lengthAdjust="spacingAndGlyphs" >Nov</text>
<text x="368.6" y="750.2" font-size="14.5" fill="#44464e" textLength="31.5" lengthAdjust="spacingAndGlyphs" font-weight="bold" >2023</text>
<text x="541.0" y="750.2" font-size="14.5" fill="#44464e" textLength="23.0" lengthAdjust="spacingAndGlyphs" >Mar</text>
<text x="713.0" y="750.2" font-size="14.5" fill="#44464e" textLength="23.5" lengthAdjust="spacingAndGlyphs" >May</text>
<text x="896.5" y="750.2" font-size="14.5" fill="#44464e" textLength="17.0" lengthAdjust="spacingAndGlyphs" >Jul</text>
<text x="1070.6" y="750.2" font-size="14.5" fill="#44464e" textLength="21.6" lengthAdjust="spacingAndGlyphs" >Sep</text>
<text x="1241.8" y="750.2" font-size="14.5" fill="#44464e" textLength="22.6" lengthAdjust="spacingAndGlyphs" >Nov</text>
<text x="1409.7" y="750.2" font-size="14.5" fill="#44464e" textLength="31.6" lengthAdjust="spacingAndGlyphs" font-weight="bold" >2024</text>
<text x="13.3" y="25.0" font-size="15.6" fill="#131722" textLength="112.0" lengthAdjust="spacingAndGlyphs" >BrucePowersCMT</text>
<text x="131.7" y="25.0" font-size="15.6" fill="#131722" textLength="62.7" lengthAdjust="spacingAndGlyphs" >published</text>
<text x="200.8" y="25.0" font-size="15.6" fill="#131722" textLength="15.3" lengthAdjust="spacingAndGlyphs" >on</text>
<text x="221.2" y="25.0" font-size="15.6" fill="#131722" textLength="116.4" lengthAdjust="spacingAndGlyphs" >TradingView.com,</text>
<text x="344.1" y="25.0" font-size="15.6" fill="#131722" textLength="22.1" lengthAdjust="spacingAndGlyphs" >Oct</text>
<text x="372.0" y="25.0" font-size="15.6" fill="#131722" textLength="19.2" lengthAdjust="spacingAndGlyphs" >04,</text>
<text x="397.8" y="25.0" font-size="15.6" fill="#131722" textLength="30.1" lengthAdjust="spacingAndGlyphs" >2023</text>
<text x="434.6" y="25.0" font-size="15.6" fill="#131722" textLength="35.3" lengthAdjust="spacingAndGlyphs" >15:49</text>
<text x="475.7" y="25.0" font-size="15.6" fill="#131722" textLength="39.7" lengthAdjust="spacingAndGlyphs" >UTC-4</text>
<text x="23.5" y="59.0" font-size="15.6" fill="#4c4d52" textLength="32.3" lengthAdjust="spacingAndGlyphs" >Gold</text>
<text x="59.3" y="59.0" font-size="15.6" fill="#4c4d52" textLength="28.9" lengthAdjust="spacingAndGlyphs" >Spot</text>
<text x="93.4" y="59.0" font-size="15.6" fill="#4c4d52" textLength="5.1" lengthAdjust="spacingAndGlyphs" >/</text>
<text x="104.9" y="59.0" font-size="15.6" fill="#4c4d52" textLength="26.8" lengthAdjust="spacingAndGlyphs" >U.S.</text>
<text x="138.1" y="59.0" font-size="15.6" fill="#4c4d52" textLength="40.9" lengthAdjust="spacingAndGlyphs" >Dollar,</text>
<text x="186.7" y="59.0" font-size="15.6" fill="#4c4d52" textLength="19.2" lengthAdjust="spacingAndGlyphs" >1D,</text>
<text x="213.6" y="59.0" font-size="15.6" fill="#4c4d52" textLength="50.0" lengthAdjust="spacingAndGlyphs" >FXOPEN</text>
<text x="273.6" y="59.0" font-size="15.6" fill="#4c4d52" >O</text>
<text x="284.9" y="59.0" font-size="15.6" fill="#27603f" textLength="51.1" lengthAdjust="spacingAndGlyphs" >1822.59</text>
<text x="346.5" y="59.0" font-size="15.6" fill="#4c4d52" >H</text>
<text x="357.5" y="59.0" font-size="15.6" fill="#27603f" textLength="49.8" lengthAdjust="spacingAndGlyphs" >1830.53</text>
<text x="418.0" y="59.0" font-size="15.6" fill="#4c4d52" >L</text>
<text x="425.7" y="59.0" font-size="15.6" fill="#27603f" textLength="51.3" lengthAdjust="spacingAndGlyphs" >1816.54</text>
<text x="486.7" y="59.0" font-size="15.6" fill="#4c4d52" >C</text>
<text x="497.7" y="59.0" font-size="15.6" fill="#27603f" textLength="48.8" lengthAdjust="spacingAndGlyphs" >1823.21</text>
<text x="558.0" y="59.0" font-size="15.6" fill="#27603f" textLength="96.5" lengthAdjust="spacingAndGlyphs" >+0.36 (+0.02%)</text>
<text x="23.5" y="80.0" font-size="15.6" fill="#4c4d52" textLength="27.7" lengthAdjust="spacingAndGlyphs" >EMA</text>
<text x="56.8" y="80.0" font-size="15.6" fill="#4c4d52" textLength="32.7" lengthAdjust="spacingAndGlyphs" >(200,</text>
<text x="94.6" y="80.0" font-size="15.6" fill="#4c4d52" textLength="38.4" lengthAdjust="spacingAndGlyphs" >close,</text>
<text x="139.4" y="80.0" font-size="15.6" fill="#4c4d52" textLength="10.2" lengthAdjust="spacingAndGlyphs" >0,</text>
<text x="156.5" y="80.0" font-size="15.6" fill="#4c4d52" textLength="30.2" lengthAdjust="spacingAndGlyphs" >SMA,</text>
<text x="194.4" y="80.0" font-size="15.6" fill="#4c4d52" textLength="11.5" lengthAdjust="spacingAndGlyphs" >5)</text>
<text x="216.4" y="80.0" font-size="15.6" fill="#2a2df0" textLength="51.4" lengthAdjust="spacingAndGlyphs" >1906.95</text>
<text x="23.4" y="627.0" font-size="15.6" fill="#56575e" textLength="18.3" lengthAdjust="spacingAndGlyphs" >RSI</text>
<text x="48.4" y="627.0" font-size="15.6" fill="#56575e" textLength="23.9" lengthAdjust="spacingAndGlyphs" >(14,</text>
<text x="79.1" y="627.0" font-size="15.6" fill="#56575e" textLength="35.4" lengthAdjust="spacingAndGlyphs" >close,</text>
<text x="123.2" y="627.0" font-size="15.6" fill="#56575e" textLength="29.7" lengthAdjust="spacingAndGlyphs" >SMA,</text>
<text x="161.5" y="627.0" font-size="15.6" fill="#56575e" textLength="17.3" lengthAdjust="spacingAndGlyphs" >14,</text>
<text x="186.5" y="627.0" font-size="15.6" fill="#56575e" textLength="11.5" lengthAdjust="spacingAndGlyphs" >2)</text>
<text x="209.5" y="627.0" font-size="15.6" fill="#7e57c2" textLength="33.5" lengthAdjust="spacingAndGlyphs" >19.91</text>
<text x="254.4" y="626.8" font-size="12.5" fill="#4a4d58" textLength="8.0" lengthAdjust="spacingAndGlyphs" >∅</text>
<text x="273.6" y="626.8" font-size="12.5" fill="#4a4d58" textLength="8.0" lengthAdjust="spacingAndGlyphs" >∅</text>
<path d="M13,778.7H22.7V790.7H17.9V783.3H13Z" fill="#131722"/>
<circle cx="26.9" cy="781.4" r="2.85" fill="#131722"/>
<path d="M32.5,778.7H37.4L32.2,790.7H26.9Z" fill="#131722"/>
<text x="41.9" y="790.7" font-size="16.6" fill="#131722" textLength="87.8" lengthAdjust="spacingAndGlyphs" >TradingView</text>
<g><polygon points="1477.5,772.9 1490.0,785.4 1477.5,797.9 1465.0,785.4" fill="#fff"/><polygon points="1477.5,772.9 1465.0,785.4 1468.2,785.4 1477.5,776.1" fill="#b9b9b9"/><polygon points="1477.5,776.1 1468.2,785.4 1471.0,785.4 1477.5,778.9" fill="#4a3a30"/><polygon points="1477.5,772.9 1490.0,785.4 1486.8,785.4 1477.5,776.1" fill="#3d302a"/><polygon points="1477.5,776.1 1486.8,785.4 1484.0,785.4 1477.5,778.9" fill="#cfcfcf"/><polygon points="1465.0,785.4 1477.5,797.9 1477.5,794.5 1468.4,785.4" fill="#e3c81d"/><polygon points="1468.4,785.4 1477.5,794.5 1477.5,791.9 1471.0,785.4" fill="#3d2c1c"/><polygon points="1490.0,785.4 1477.5,797.9 1477.5,794.5 1486.6,785.4" fill="#4a2f1c"/><polygon points="1486.6,785.4 1477.5,794.5 1477.5,791.9 1484.0,785.4" fill="#b9962a"/><polygon points="1477.5,781.8 1481.1,785.4 1477.5,789.0 1473.9,785.4" fill="none" stroke="#7ab531" stroke-width="1.2"/></g>
<text x="1496.2" y="783.6" font-size="9.9" fill="#fff" textLength="57.9" lengthAdjust="spacingAndGlyphs" font-weight="bold" style="filter:drop-shadow(0 0 0.9px rgba(0,0,0,.55)) drop-shadow(0 0.4px 1.6px rgba(0,0,0,.5))">SiNO SOUND</text>
<text x="1496.0" y="793.6" font-size="8.4" fill="#fff" font-weight="bold" style="filter:drop-shadow(0 0 0.9px rgba(0,0,0,.55)) drop-shadow(0 0.4px 1.6px rgba(0,0,0,.5))" font-family='"Liberation Sans","Noto Sans CJK TC",sans-serif'>漢</text>
<text x="1512.5" y="793.6" font-size="8.4" fill="#fff" font-weight="bold" style="filter:drop-shadow(0 0 0.9px rgba(0,0,0,.55)) drop-shadow(0 0.4px 1.6px rgba(0,0,0,.5))" font-family='"Liberation Sans","Noto Sans CJK TC",sans-serif'>聲</text>
<text x="1529.0" y="793.6" font-size="8.4" fill="#fff" font-weight="bold" style="filter:drop-shadow(0 0 0.9px rgba(0,0,0,.55)) drop-shadow(0 0.4px 1.6px rgba(0,0,0,.5))" font-family='"Liberation Sans","Noto Sans CJK TC",sans-serif'>集</text>
<text x="1545.5" y="793.6" font-size="8.4" fill="#fff" font-weight="bold" style="filter:drop-shadow(0 0 0.9px rgba(0,0,0,.55)) drop-shadow(0 0.4px 1.6px rgba(0,0,0,.5))" font-family='"Liberation Sans","Noto Sans CJK TC",sans-serif'>團</text>
</svg>
</body></html>
